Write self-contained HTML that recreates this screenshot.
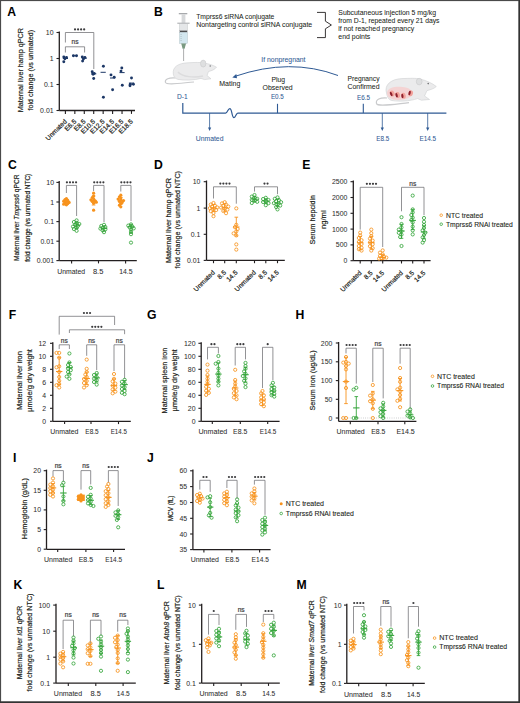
<!DOCTYPE html>
<html><head><meta charset="utf-8"><style>
html,body{margin:0;padding:0;background:#fff;}
body{width:520px;height:703px;overflow:hidden;}
svg{display:block;font-family:"Liberation Sans", sans-serif;}
</style></head><body>
<svg width="520" height="703" viewBox="0 0 520 703">
<rect x="0" y="0" width="520" height="703" fill="#fff"/>
<text x="7.3" y="15.8" font-size="12.2" text-anchor="start" fill="#000" font-weight="bold" >A</text>
<text transform="translate(23.0,70.2) rotate(-90)" font-size="8.0" text-anchor="middle" fill="#231f20" stroke="#231f20" stroke-width="0.2" textLength="84" lengthAdjust="spacingAndGlyphs" >Maternal liver hamp qPCR</text>
<text transform="translate(33.0,70.2) rotate(-90)" font-size="8.0" text-anchor="middle" fill="#231f20" stroke="#231f20" stroke-width="0.2" textLength="80.5" lengthAdjust="spacingAndGlyphs" >fold change (vs unmated)</text>
<line x1="59.3" y1="31.5" x2="59.3" y2="110.5" stroke="#231f20" stroke-width="1.3" />
<line x1="56.5" y1="32.5" x2="59.3" y2="32.5" stroke="#231f20" stroke-width="1.105" />
<text x="53.6" y="35.0" font-size="6.3" text-anchor="end" fill="#2e2e2e" stroke="#2e2e2e" stroke-width="0.03" textLength="7.71" lengthAdjust="spacingAndGlyphs" >10</text>
<line x1="56.5" y1="58.5" x2="59.3" y2="58.5" stroke="#231f20" stroke-width="1.105" />
<text x="53.6" y="61.0" font-size="6.3" text-anchor="end" fill="#2e2e2e" stroke="#2e2e2e" stroke-width="0.03" textLength="3.85" lengthAdjust="spacingAndGlyphs" >1</text>
<line x1="56.5" y1="84.5" x2="59.3" y2="84.5" stroke="#231f20" stroke-width="1.105" />
<text x="53.6" y="87.0" font-size="6.3" text-anchor="end" fill="#2e2e2e" stroke="#2e2e2e" stroke-width="0.03" textLength="9.63" lengthAdjust="spacingAndGlyphs" >0.1</text>
<line x1="56.5" y1="110.5" x2="59.3" y2="110.5" stroke="#231f20" stroke-width="1.105" />
<text x="53.6" y="113.0" font-size="6.3" text-anchor="end" fill="#2e2e2e" stroke="#2e2e2e" stroke-width="0.03" textLength="13.49" lengthAdjust="spacingAndGlyphs" >0.01</text>
<line x1="59.3" y1="110.5" x2="135.0" y2="110.5" stroke="#231f20" stroke-width="1.3" />
<line x1="65.4" y1="110.5" x2="65.4" y2="113.9" stroke="#231f20" stroke-width="1.105" />
<line x1="74.84" y1="110.5" x2="74.84" y2="113.9" stroke="#231f20" stroke-width="1.105" />
<line x1="84.28" y1="110.5" x2="84.28" y2="113.9" stroke="#231f20" stroke-width="1.105" />
<line x1="93.72" y1="110.5" x2="93.72" y2="113.9" stroke="#231f20" stroke-width="1.105" />
<line x1="103.16" y1="110.5" x2="103.16" y2="113.9" stroke="#231f20" stroke-width="1.105" />
<line x1="112.6" y1="110.5" x2="112.6" y2="113.9" stroke="#231f20" stroke-width="1.105" />
<line x1="122.04" y1="110.5" x2="122.04" y2="113.9" stroke="#231f20" stroke-width="1.105" />
<line x1="131.48000000000002" y1="110.5" x2="131.48000000000002" y2="113.9" stroke="#231f20" stroke-width="1.105" />
<text transform="translate(67.30000000000001,122.0) rotate(-45)" font-size="6.6" text-anchor="end" fill="#231f20" stroke="#231f20" stroke-width="0.2" >Unmated</text>
<text transform="translate(76.74000000000001,122.0) rotate(-45)" font-size="6.6" text-anchor="end" fill="#231f20" stroke="#231f20" stroke-width="0.2" >E6.5</text>
<text transform="translate(86.18,122.0) rotate(-45)" font-size="6.6" text-anchor="end" fill="#231f20" stroke="#231f20" stroke-width="0.2" >E8.5</text>
<text transform="translate(95.62,122.0) rotate(-45)" font-size="6.6" text-anchor="end" fill="#231f20" stroke="#231f20" stroke-width="0.2" >E10.5</text>
<text transform="translate(105.06,122.0) rotate(-45)" font-size="6.6" text-anchor="end" fill="#231f20" stroke="#231f20" stroke-width="0.2" >E12.5</text>
<text transform="translate(114.5,122.0) rotate(-45)" font-size="6.6" text-anchor="end" fill="#231f20" stroke="#231f20" stroke-width="0.2" >E14.5</text>
<text transform="translate(123.94000000000001,122.0) rotate(-45)" font-size="6.6" text-anchor="end" fill="#231f20" stroke="#231f20" stroke-width="0.2" >E16.5</text>
<text transform="translate(133.38000000000002,122.0) rotate(-45)" font-size="6.6" text-anchor="end" fill="#231f20" stroke="#231f20" stroke-width="0.2" >E18.5</text>
<polyline points="65.4,42.5 65.4,32.5 93.8,32.5 93.8,69.0" fill="none" stroke="#6d6e71" stroke-width="0.75"/>
<polyline points="65.4,52.5 65.4,46.8 84.6,46.8 84.6,52.5" fill="none" stroke="#6d6e71" stroke-width="0.75"/>
<text x="75.0" y="44.2" font-size="6.6" text-anchor="middle" fill="#414042" stroke="#414042" stroke-width="0.2" >ns</text>
<line x1="62.800000000000004" y1="58.5" x2="68.0" y2="58.5" stroke="#1c3766" stroke-width="1.0" />
<circle cx="63.8" cy="56.9" r="1.45" fill="#1c3766"/>
<circle cx="66.5" cy="57.5" r="1.45" fill="#1c3766"/>
<circle cx="64.9" cy="58.8" r="1.45" fill="#1c3766"/>
<circle cx="63.8" cy="61.8" r="1.45" fill="#1c3766"/>
<line x1="72.24000000000001" y1="55.7" x2="77.44" y2="55.7" stroke="#1c3766" stroke-width="1.0" />
<circle cx="73.4" cy="55.7" r="1.45" fill="#1c3766"/>
<circle cx="76.5" cy="55.7" r="1.45" fill="#1c3766"/>
<line x1="81.68" y1="58.2" x2="86.88" y2="58.2" stroke="#1c3766" stroke-width="1.0" />
<circle cx="82.3" cy="56.9" r="1.45" fill="#1c3766"/>
<circle cx="84.9" cy="57.5" r="1.45" fill="#1c3766"/>
<circle cx="83.4" cy="59.0" r="1.45" fill="#1c3766"/>
<circle cx="82.6" cy="61.1" r="1.45" fill="#1c3766"/>
<line x1="91.12" y1="73.8" x2="96.32" y2="73.8" stroke="#1c3766" stroke-width="1.0" />
<circle cx="92.2" cy="71.8" r="1.45" fill="#1c3766"/>
<circle cx="94.2" cy="73.4" r="1.45" fill="#1c3766"/>
<circle cx="93.1" cy="74.2" r="1.45" fill="#1c3766"/>
<circle cx="93.7" cy="78.5" r="1.45" fill="#1c3766"/>
<line x1="100.56" y1="72.3" x2="105.75999999999999" y2="72.3" stroke="#1c3766" stroke-width="1.0" />
<circle cx="103.4" cy="66.2" r="1.45" fill="#1c3766"/>
<circle cx="103.4" cy="97.2" r="1.45" fill="#1c3766"/>
<line x1="110.0" y1="78.0" x2="115.19999999999999" y2="78.0" stroke="#1c3766" stroke-width="1.0" />
<circle cx="111.0" cy="74.9" r="1.45" fill="#1c3766"/>
<circle cx="114.2" cy="77.2" r="1.45" fill="#1c3766"/>
<circle cx="112.6" cy="89.8" r="1.45" fill="#1c3766"/>
<line x1="119.44000000000001" y1="72.6" x2="124.64" y2="72.6" stroke="#1c3766" stroke-width="1.0" />
<circle cx="121.8" cy="68.0" r="1.45" fill="#1c3766"/>
<circle cx="121.0" cy="71.1" r="1.45" fill="#1c3766"/>
<circle cx="122.3" cy="85.2" r="1.45" fill="#1c3766"/>
<line x1="128.88000000000002" y1="83.1" x2="134.08" y2="83.1" stroke="#1c3766" stroke-width="1.0" />
<circle cx="131.5" cy="78.0" r="1.45" fill="#1c3766"/>
<circle cx="130.3" cy="84.2" r="1.45" fill="#1c3766"/>
<circle cx="133.4" cy="84.2" r="1.45" fill="#1c3766"/>
<circle cx="130.0" cy="85.7" r="1.45" fill="#1c3766"/>
<text x="154.0" y="15.8" font-size="12.2" text-anchor="start" fill="#000" font-weight="bold" >B</text>
<rect x="178.8" y="13" width="8.5" height="1.3" fill="#a7a9ac"/>
<rect x="181.6" y="14.2" width="3.8" height="9" fill="#d6d8da"/>
<rect x="177.3" y="22.6" width="12.3" height="1.3" fill="#b9bbbd"/>
<rect x="179.7" y="23.8" width="7.6" height="7.0" fill="#e4e6e8" stroke="#b0b3b6" stroke-width="0.4"/>
<rect x="179.7" y="30.7" width="7.6" height="1.6" fill="#4d4d4f"/>
<rect x="179.7" y="32.3" width="7.6" height="11.1" fill="#d3e7ef" stroke="#9fb3bb" stroke-width="0.4"/>
<line x1="180.2" y1="34.5" x2="182.0" y2="34.5" stroke="#9aa9ae" stroke-width="0.35" />
<line x1="180.2" y1="36.5" x2="182.0" y2="36.5" stroke="#9aa9ae" stroke-width="0.35" />
<line x1="180.2" y1="38.5" x2="182.0" y2="38.5" stroke="#9aa9ae" stroke-width="0.35" />
<line x1="180.2" y1="40.5" x2="182.0" y2="40.5" stroke="#9aa9ae" stroke-width="0.35" />
<path d="M181.2,43.4 L186.0,43.4 L184.6,48.8 L182.6,48.8 Z" fill="#7a9a82"/>
<line x1="183.6" y1="48.8" x2="183.6" y2="61.0" stroke="#8a8c8e" stroke-width="0.7" />
<text x="196.2" y="18.8" font-size="6.6" text-anchor="start" fill="#231f20" stroke="#231f20" stroke-width="0.05" textLength="78.2" lengthAdjust="spacingAndGlyphs" >Tmprss6 siRNA conjugate</text>
<text x="196.2" y="26.9" font-size="6.6" text-anchor="start" fill="#231f20" stroke="#231f20" stroke-width="0.05" textLength="116.0" lengthAdjust="spacingAndGlyphs" >Nontargeting control siRNA conjugate</text>
<path d="M317,12.4 H325.4 V21.2 L331.4,25.0 L325.4,28.8 V37.6 H317" fill="none" stroke="#231f20" stroke-width="0.9"/>
<text x="338.3" y="15.0" font-size="6.6" text-anchor="start" fill="#231f20" stroke="#231f20" stroke-width="0.05" textLength="97.8" lengthAdjust="spacingAndGlyphs" >Subcutaneous injection 5 mg/kg</text>
<text x="338.3" y="23.1" font-size="6.6" text-anchor="start" fill="#231f20" stroke="#231f20" stroke-width="0.05" textLength="101.2" lengthAdjust="spacingAndGlyphs" >from D-1, repeated every 21 days</text>
<text x="338.3" y="31.1" font-size="6.6" text-anchor="start" fill="#231f20" stroke="#231f20" stroke-width="0.05" textLength="75.8" lengthAdjust="spacingAndGlyphs" >if not reached pregnancy</text>
<text x="338.3" y="38.9" font-size="6.6" text-anchor="start" fill="#231f20" stroke="#231f20" stroke-width="0.05" textLength="32.0" lengthAdjust="spacingAndGlyphs" >end points</text>
<path d="M175.5,78 C169,77.5 164.6,79 165.4,82.3 C166.4,85.4 180,83.2 194,82.0" fill="none" stroke="#c9cacc" stroke-width="1.1"/>
<path d="M173.3,74 C172.3,67 178,63.2 188,62.8 C195,62.4 200,62.2 204,63 C208.5,63.8 213,65 216.5,67.2 C215,69.5 211.5,70.8 208.5,71.5 L207,75.5 L211,78.8 L204.5,79.6 L201,78.4 C194,80.3 184,80.6 178,79.4 C175,78.6 173.6,76.5 173.3,74 Z" fill="#ebebec" stroke="#cfd0d2" stroke-width="0.6"/>
<path d="M178,72 C182,77 195,78 203,76" fill="none" stroke="#dcdcdd" stroke-width="1.5"/>
<ellipse cx="203.2" cy="63.6" rx="2.7" ry="3.5" fill="#dedfe0" stroke="#c4c5c7" stroke-width="0.5"/>
<circle cx="210.2" cy="66.0" r="0.7" fill="#6d6e71"/>
<path d="M387,98 C380,97.5 375.5,99.5 376.5,103.5 C377.5,107 392,104.5 409,102.6" fill="none" stroke="#c9cacc" stroke-width="1.2"/>
<path d="M386.5,93 C384,85 391,79 402,78.6 C410,78.3 416,78 420,79 C426,80.5 432,83 436.3,86.5 C434,88.8 430,89.8 427,90.6 L424.5,96 L429.5,99.5 L421.5,100.2 L417.5,98.6 C410,101.3 398,101.8 391,100.3 C388.5,99.5 387,96.5 386.5,93 Z" fill="#ebebec" stroke="#cfd0d2" stroke-width="0.6"/>
<path d="M387.0,93 C387.2,88.5 393,86.6 400,86.8 C406.5,87.0 411.8,88.8 412.0,93.0 C412.2,97.8 405,99.9 398,99.9 C391.5,99.9 386.8,97.2 387.0,93 Z" fill="#f4d3d3"/>
<ellipse cx="392.4" cy="94.0" rx="2.2" ry="3.0" transform="rotate(-25 391.2 94.0)" fill="#f2a39c"/>
<ellipse cx="391.2" cy="94.0" rx="1.1" ry="2.3" transform="rotate(-25 391.2 94.0)" fill="#8e1f2c"/>
<ellipse cx="397.8" cy="95.3" rx="2.2" ry="3.0" transform="rotate(-15 396.6 95.3)" fill="#f2a39c"/>
<ellipse cx="396.6" cy="95.3" rx="1.1" ry="2.3" transform="rotate(-15 396.6 95.3)" fill="#8e1f2c"/>
<ellipse cx="403.59999999999997" cy="96.0" rx="2.2" ry="3.0" transform="rotate(-8 402.4 96.0)" fill="#f2a39c"/>
<ellipse cx="402.4" cy="96.0" rx="1.1" ry="2.3" transform="rotate(-8 402.4 96.0)" fill="#8e1f2c"/>
<ellipse cx="410.8" cy="93.0" rx="2.2" ry="3.0" transform="rotate(15 409.6 93.0)" fill="#f2a39c"/>
<ellipse cx="409.6" cy="93.0" rx="1.1" ry="2.3" transform="rotate(15 409.6 93.0)" fill="#8e1f2c"/>
<ellipse cx="419.2" cy="81.6" rx="2.9" ry="3.3" fill="#dedfe0" stroke="#c4c5c7" stroke-width="0.5"/>
<circle cx="428.2" cy="83.6" r="0.8" fill="#6d6e71"/>
<path d="M182.8,103 V113.1 H225.6 C227.6,113.1 227.8,108.6 229.8,108.6 C232.2,108.6 231.6,117.6 234.0,117.6 C235.8,117.6 236.0,113.1 237.8,113.1 H446.4" fill="none" stroke="#2f5a94" stroke-width="1.2"/>
<line x1="277.5" y1="103.8" x2="277.5" y2="113.1" stroke="#2f5a94" stroke-width="1.1" />
<line x1="363.3" y1="103.8" x2="363.3" y2="113.1" stroke="#2f5a94" stroke-width="1.1" />
<line x1="209.6" y1="113.1" x2="209.6" y2="128.5" stroke="#2f5a94" stroke-width="0.8" />
<path d="M208.0,127.5 L211.2,127.5 L209.6,131.0 Z" fill="#2f5a94"/>
<line x1="382.3" y1="113.1" x2="382.3" y2="128.5" stroke="#2f5a94" stroke-width="0.8" />
<path d="M380.7,127.5 L383.90000000000003,127.5 L382.3,131.0 Z" fill="#2f5a94"/>
<line x1="427.7" y1="113.1" x2="427.7" y2="128.5" stroke="#2f5a94" stroke-width="0.8" />
<path d="M426.09999999999997,127.5 L429.3,127.5 L427.7,131.0 Z" fill="#2f5a94"/>
<path d="M338,75.5 Q290,57.5 235.5,76.2" fill="none" stroke="#2f5a94" stroke-width="1.0"/>
<path d="M232.3,77.6 L236.3,73.9 L237.0,78.2 Z" fill="#2f5a94"/>
<text x="261.3" y="62.2" font-size="6.6" text-anchor="start" fill="#2f5a94" stroke="#2f5a94" stroke-width="0.05" textLength="44.2" lengthAdjust="spacingAndGlyphs" >If nonpregnant</text>
<text x="219.3" y="85.5" font-size="6.6" text-anchor="start" fill="#231f20" stroke="#231f20" stroke-width="0.05" textLength="21.0" lengthAdjust="spacingAndGlyphs" >Mating</text>
<text x="278.2" y="82.0" font-size="6.6" text-anchor="middle" fill="#231f20" stroke="#231f20" stroke-width="0.05" textLength="13.6" lengthAdjust="spacingAndGlyphs" >Plug</text>
<text x="277.6" y="90.0" font-size="6.6" text-anchor="middle" fill="#231f20" stroke="#231f20" stroke-width="0.05" textLength="30.0" lengthAdjust="spacingAndGlyphs" >Observed</text>
<text x="277.4" y="98.8" font-size="6.6" text-anchor="middle" fill="#2f5a94" stroke="#2f5a94" stroke-width="0.05" textLength="13.0" lengthAdjust="spacingAndGlyphs" >E0.5</text>
<text x="363.5" y="81.3" font-size="6.6" text-anchor="middle" fill="#231f20" stroke="#231f20" stroke-width="0.05" textLength="32.0" lengthAdjust="spacingAndGlyphs" >Pregnancy</text>
<text x="363.5" y="89.3" font-size="6.6" text-anchor="middle" fill="#231f20" stroke="#231f20" stroke-width="0.05" textLength="32.0" lengthAdjust="spacingAndGlyphs" >Confirmed</text>
<text x="363.5" y="99.5" font-size="6.6" text-anchor="middle" fill="#2f5a94" stroke="#2f5a94" stroke-width="0.05" textLength="13.0" lengthAdjust="spacingAndGlyphs" >E6.5</text>
<text x="182.4" y="98.6" font-size="6.6" text-anchor="middle" fill="#2f5a94" stroke="#2f5a94" stroke-width="0.05" textLength="10.7" lengthAdjust="spacingAndGlyphs" >D-1</text>
<text x="209.6" y="140.8" font-size="6.6" text-anchor="middle" fill="#2f5a94" stroke="#2f5a94" stroke-width="0.05" textLength="27.7" lengthAdjust="spacingAndGlyphs" >Unmated</text>
<text x="382.7" y="140.8" font-size="6.6" text-anchor="middle" fill="#2f5a94" stroke="#2f5a94" stroke-width="0.05" textLength="13.0" lengthAdjust="spacingAndGlyphs" >E8.5</text>
<text x="427.8" y="140.8" font-size="6.6" text-anchor="middle" fill="#2f5a94" stroke="#2f5a94" stroke-width="0.05" textLength="16.7" lengthAdjust="spacingAndGlyphs" >E14.5</text>
<text x="8.0" y="168.9" font-size="12.2" text-anchor="start" fill="#000" font-weight="bold" >C</text>
<text transform="translate(19.0,217.8) rotate(-90)" font-size="8.0" text-anchor="middle" fill="#231f20" stroke="#231f20" stroke-width="0.2" textLength="86.5" lengthAdjust="spacingAndGlyphs" >Maternal liver <tspan font-style="italic">Tmprss6</tspan> qPCR</text>
<text transform="translate(29.5,217.8) rotate(-90)" font-size="8.0" text-anchor="middle" fill="#231f20" stroke="#231f20" stroke-width="0.2" textLength="88.0" lengthAdjust="spacingAndGlyphs" >fold change (vs unmated NTC)</text>
<line x1="59.2" y1="181.0" x2="59.2" y2="260.6" stroke="#231f20" stroke-width="1.3" />
<line x1="56.400000000000006" y1="182.4" x2="59.2" y2="182.4" stroke="#231f20" stroke-width="1.105" />
<text x="54.0" y="184.9" font-size="6.3" text-anchor="end" fill="#2e2e2e" stroke="#2e2e2e" stroke-width="0.03" textLength="7.71" lengthAdjust="spacingAndGlyphs" >10</text>
<line x1="56.400000000000006" y1="202.0" x2="59.2" y2="202.0" stroke="#231f20" stroke-width="1.105" />
<text x="54.0" y="204.5" font-size="6.3" text-anchor="end" fill="#2e2e2e" stroke="#2e2e2e" stroke-width="0.03" textLength="3.85" lengthAdjust="spacingAndGlyphs" >1</text>
<line x1="56.400000000000006" y1="221.6" x2="59.2" y2="221.6" stroke="#231f20" stroke-width="1.105" />
<text x="54.0" y="224.1" font-size="6.3" text-anchor="end" fill="#2e2e2e" stroke="#2e2e2e" stroke-width="0.03" textLength="9.63" lengthAdjust="spacingAndGlyphs" >0.1</text>
<line x1="56.400000000000006" y1="241.2" x2="59.2" y2="241.2" stroke="#231f20" stroke-width="1.105" />
<text x="54.0" y="243.7" font-size="6.3" text-anchor="end" fill="#2e2e2e" stroke="#2e2e2e" stroke-width="0.03" textLength="13.49" lengthAdjust="spacingAndGlyphs" >0.01</text>
<line x1="56.400000000000006" y1="260.6" x2="59.2" y2="260.6" stroke="#231f20" stroke-width="1.105" />
<text x="54.0" y="263.1" font-size="6.3" text-anchor="end" fill="#2e2e2e" stroke="#2e2e2e" stroke-width="0.03" textLength="17.34" lengthAdjust="spacingAndGlyphs" >0.001</text>
<line x1="59.2" y1="260.6" x2="136.8" y2="260.6" stroke="#231f20" stroke-width="1.3" />
<line x1="71.6" y1="260.6" x2="71.6" y2="263.40000000000003" stroke="#231f20" stroke-width="1.105" />
<line x1="98.5" y1="260.6" x2="98.5" y2="263.40000000000003" stroke="#231f20" stroke-width="1.105" />
<line x1="125.6" y1="260.6" x2="125.6" y2="263.40000000000003" stroke="#231f20" stroke-width="1.105" />
<text x="71.2" y="273.5" font-size="6.8" text-anchor="middle" fill="#2e2e2e" stroke="#2e2e2e" stroke-width="0.05" textLength="27.8" lengthAdjust="spacingAndGlyphs" >Unmated</text>
<text x="98.1" y="273.5" font-size="6.8" text-anchor="middle" fill="#2e2e2e" stroke="#2e2e2e" stroke-width="0.05" textLength="10.4" lengthAdjust="spacingAndGlyphs" >8.5</text>
<text x="125.9" y="273.5" font-size="6.8" text-anchor="middle" fill="#2e2e2e" stroke="#2e2e2e" stroke-width="0.05" textLength="13.4" lengthAdjust="spacingAndGlyphs" >14.5</text>
<polyline points="66.4,193.0 66.4,185.4 76.6,185.4 76.6,216.0" fill="none" stroke="#6d6e71" stroke-width="0.75"/>
<circle cx="66.92" cy="182.30" r="1.1" fill="#3c3c3e"/>
<circle cx="69.97" cy="182.30" r="1.1" fill="#3c3c3e"/>
<circle cx="73.02" cy="182.30" r="1.1" fill="#3c3c3e"/>
<circle cx="76.07" cy="182.30" r="1.1" fill="#3c3c3e"/>
<polyline points="93.6,191.0 93.6,185.4 104.0,185.4 104.0,222.0" fill="none" stroke="#6d6e71" stroke-width="0.75"/>
<circle cx="94.22" cy="182.30" r="1.1" fill="#3c3c3e"/>
<circle cx="97.27" cy="182.30" r="1.1" fill="#3c3c3e"/>
<circle cx="100.32" cy="182.30" r="1.1" fill="#3c3c3e"/>
<circle cx="103.38" cy="182.30" r="1.1" fill="#3c3c3e"/>
<polyline points="120.8,191.5 120.8,185.4 131.0,185.4 131.0,221.0" fill="none" stroke="#6d6e71" stroke-width="0.75"/>
<circle cx="121.33" cy="182.30" r="1.1" fill="#3c3c3e"/>
<circle cx="124.38" cy="182.30" r="1.1" fill="#3c3c3e"/>
<circle cx="127.42" cy="182.30" r="1.1" fill="#3c3c3e"/>
<circle cx="130.47" cy="182.30" r="1.1" fill="#3c3c3e"/>
<circle cx="66.40" cy="198.60" r="1.6" fill="#f7931e"/>
<circle cx="65.05" cy="199.60" r="1.6" fill="#f7931e"/>
<circle cx="67.75" cy="200.40" r="1.6" fill="#f7931e"/>
<circle cx="63.70" cy="201.20" r="1.6" fill="#f7931e"/>
<circle cx="66.40" cy="201.80" r="1.6" fill="#f7931e"/>
<circle cx="69.10" cy="202.40" r="1.6" fill="#f7931e"/>
<circle cx="65.05" cy="203.00" r="1.6" fill="#f7931e"/>
<circle cx="67.75" cy="203.60" r="1.6" fill="#f7931e"/>
<circle cx="63.70" cy="204.20" r="1.6" fill="#f7931e"/>
<circle cx="66.40" cy="204.80" r="1.6" fill="#f7931e"/>
<line x1="66.4" y1="199.0" x2="66.4" y2="204.6" stroke="#f7931e" stroke-width="0.9" />
<line x1="64.60000000000001" y1="199.0" x2="68.2" y2="199.0" stroke="#f7931e" stroke-width="0.9" />
<line x1="64.60000000000001" y1="204.6" x2="68.2" y2="204.6" stroke="#f7931e" stroke-width="0.9" />
<line x1="63.2" y1="201.8" x2="69.60000000000001" y2="201.8" stroke="#f7931e" stroke-width="1.08" />
<circle cx="76.60" cy="220.40" r="1.6" fill="none" stroke="#35a53b" stroke-width="0.85"/>
<circle cx="73.90" cy="222.00" r="1.6" fill="none" stroke="#35a53b" stroke-width="0.85"/>
<circle cx="76.60" cy="223.00" r="1.6" fill="none" stroke="#35a53b" stroke-width="0.85"/>
<circle cx="79.30" cy="224.00" r="1.6" fill="none" stroke="#35a53b" stroke-width="0.85"/>
<circle cx="75.25" cy="225.00" r="1.6" fill="none" stroke="#35a53b" stroke-width="0.85"/>
<circle cx="77.95" cy="225.80" r="1.6" fill="none" stroke="#35a53b" stroke-width="0.85"/>
<circle cx="73.00" cy="226.60" r="1.6" fill="none" stroke="#35a53b" stroke-width="0.85"/>
<circle cx="76.60" cy="227.60" r="1.6" fill="none" stroke="#35a53b" stroke-width="0.85"/>
<circle cx="73.90" cy="229.00" r="1.6" fill="none" stroke="#35a53b" stroke-width="0.85"/>
<circle cx="76.60" cy="230.80" r="1.6" fill="none" stroke="#35a53b" stroke-width="0.85"/>
<line x1="76.6" y1="222.2" x2="76.6" y2="228.4" stroke="#35a53b" stroke-width="0.9" />
<line x1="74.8" y1="222.2" x2="78.39999999999999" y2="222.2" stroke="#35a53b" stroke-width="0.9" />
<line x1="74.8" y1="228.4" x2="78.39999999999999" y2="228.4" stroke="#35a53b" stroke-width="0.9" />
<line x1="73.39999999999999" y1="225.2" x2="79.8" y2="225.2" stroke="#35a53b" stroke-width="1.08" />
<circle cx="93.60" cy="193.20" r="1.6" fill="#f7931e"/>
<circle cx="93.60" cy="196.00" r="1.6" fill="#f7931e"/>
<circle cx="92.25" cy="197.50" r="1.6" fill="#f7931e"/>
<circle cx="93.60" cy="198.80" r="1.6" fill="#f7931e"/>
<circle cx="90.90" cy="199.80" r="1.6" fill="#f7931e"/>
<circle cx="94.95" cy="200.60" r="1.6" fill="#f7931e"/>
<circle cx="92.25" cy="201.40" r="1.6" fill="#f7931e"/>
<circle cx="96.30" cy="202.20" r="1.6" fill="#f7931e"/>
<circle cx="93.60" cy="203.20" r="1.6" fill="#f7931e"/>
<circle cx="93.60" cy="210.20" r="1.6" fill="#f7931e"/>
<line x1="93.6" y1="196.0" x2="93.6" y2="205.0" stroke="#f7931e" stroke-width="0.9" />
<line x1="91.8" y1="196.0" x2="95.39999999999999" y2="196.0" stroke="#f7931e" stroke-width="0.9" />
<line x1="91.8" y1="205.0" x2="95.39999999999999" y2="205.0" stroke="#f7931e" stroke-width="0.9" />
<line x1="90.39999999999999" y1="200.8" x2="96.8" y2="200.8" stroke="#f7931e" stroke-width="1.08" />
<circle cx="104.00" cy="224.80" r="1.6" fill="none" stroke="#35a53b" stroke-width="0.85"/>
<circle cx="101.30" cy="226.00" r="1.6" fill="none" stroke="#35a53b" stroke-width="0.85"/>
<circle cx="105.35" cy="227.00" r="1.6" fill="none" stroke="#35a53b" stroke-width="0.85"/>
<circle cx="102.65" cy="227.80" r="1.6" fill="none" stroke="#35a53b" stroke-width="0.85"/>
<circle cx="100.40" cy="228.60" r="1.6" fill="none" stroke="#35a53b" stroke-width="0.85"/>
<circle cx="105.35" cy="229.40" r="1.6" fill="none" stroke="#35a53b" stroke-width="0.85"/>
<circle cx="102.65" cy="230.40" r="1.6" fill="none" stroke="#35a53b" stroke-width="0.85"/>
<circle cx="104.00" cy="232.20" r="1.6" fill="none" stroke="#35a53b" stroke-width="0.85"/>
<line x1="104.0" y1="226.0" x2="104.0" y2="231.0" stroke="#35a53b" stroke-width="0.9" />
<line x1="102.2" y1="226.0" x2="105.8" y2="226.0" stroke="#35a53b" stroke-width="0.9" />
<line x1="102.2" y1="231.0" x2="105.8" y2="231.0" stroke="#35a53b" stroke-width="0.9" />
<line x1="100.8" y1="228.4" x2="107.2" y2="228.4" stroke="#35a53b" stroke-width="1.08" />
<circle cx="120.80" cy="195.20" r="1.6" fill="#f7931e"/>
<circle cx="119.45" cy="196.80" r="1.6" fill="#f7931e"/>
<circle cx="120.80" cy="198.00" r="1.6" fill="#f7931e"/>
<circle cx="118.10" cy="199.00" r="1.6" fill="#f7931e"/>
<circle cx="120.80" cy="199.80" r="1.6" fill="#f7931e"/>
<circle cx="123.50" cy="200.60" r="1.6" fill="#f7931e"/>
<circle cx="119.45" cy="201.40" r="1.6" fill="#f7931e"/>
<circle cx="122.15" cy="202.40" r="1.6" fill="#f7931e"/>
<circle cx="120.80" cy="203.60" r="1.6" fill="#f7931e"/>
<circle cx="119.45" cy="205.20" r="1.6" fill="#f7931e"/>
<circle cx="120.80" cy="206.80" r="1.6" fill="#f7931e"/>
<line x1="120.8" y1="197.4" x2="120.8" y2="204.4" stroke="#f7931e" stroke-width="0.9" />
<line x1="119.0" y1="197.4" x2="122.6" y2="197.4" stroke="#f7931e" stroke-width="0.9" />
<line x1="119.0" y1="204.4" x2="122.6" y2="204.4" stroke="#f7931e" stroke-width="0.9" />
<line x1="117.6" y1="200.8" x2="124.0" y2="200.8" stroke="#f7931e" stroke-width="1.08" />
<circle cx="131.00" cy="224.40" r="1.6" fill="none" stroke="#35a53b" stroke-width="0.85"/>
<circle cx="128.30" cy="225.60" r="1.6" fill="none" stroke="#35a53b" stroke-width="0.85"/>
<circle cx="132.35" cy="226.60" r="1.6" fill="none" stroke="#35a53b" stroke-width="0.85"/>
<circle cx="129.65" cy="227.40" r="1.6" fill="none" stroke="#35a53b" stroke-width="0.85"/>
<circle cx="133.70" cy="228.40" r="1.6" fill="none" stroke="#35a53b" stroke-width="0.85"/>
<circle cx="131.00" cy="229.60" r="1.6" fill="none" stroke="#35a53b" stroke-width="0.85"/>
<circle cx="131.00" cy="231.80" r="1.6" fill="none" stroke="#35a53b" stroke-width="0.85"/>
<circle cx="131.00" cy="234.20" r="1.6" fill="none" stroke="#35a53b" stroke-width="0.85"/>
<circle cx="131.00" cy="242.60" r="1.6" fill="none" stroke="#35a53b" stroke-width="0.85"/>
<line x1="131.0" y1="224.4" x2="131.0" y2="233.0" stroke="#35a53b" stroke-width="0.9" />
<line x1="129.2" y1="224.4" x2="132.8" y2="224.4" stroke="#35a53b" stroke-width="0.9" />
<line x1="129.2" y1="233.0" x2="132.8" y2="233.0" stroke="#35a53b" stroke-width="0.9" />
<line x1="127.8" y1="226.8" x2="134.2" y2="226.8" stroke="#35a53b" stroke-width="1.08" />
<text x="154.0" y="168.9" font-size="12.2" text-anchor="start" fill="#000" font-weight="bold" >D</text>
<text transform="translate(170.6,220.6) rotate(-90)" font-size="8.0" text-anchor="middle" fill="#231f20" stroke="#231f20" stroke-width="0.2" textLength="85.0" lengthAdjust="spacingAndGlyphs" >Maternal liver hamp qPCR</text>
<text transform="translate(180.2,219.8) rotate(-90)" font-size="8.0" text-anchor="middle" fill="#231f20" stroke="#231f20" stroke-width="0.2" textLength="97.5" lengthAdjust="spacingAndGlyphs" >fold change (vs unmated NTC)</text>
<line x1="206.5" y1="180.5" x2="206.5" y2="260.4" stroke="#231f20" stroke-width="1.3" />
<line x1="203.7" y1="181.7" x2="206.5" y2="181.7" stroke="#231f20" stroke-width="1.105" />
<text x="200.4" y="184.2" font-size="6.3" text-anchor="end" fill="#2e2e2e" stroke="#2e2e2e" stroke-width="0.03" textLength="7.71" lengthAdjust="spacingAndGlyphs" >10</text>
<line x1="203.7" y1="208.1" x2="206.5" y2="208.1" stroke="#231f20" stroke-width="1.105" />
<text x="200.4" y="210.6" font-size="6.3" text-anchor="end" fill="#2e2e2e" stroke="#2e2e2e" stroke-width="0.03" textLength="3.85" lengthAdjust="spacingAndGlyphs" >1</text>
<line x1="203.7" y1="234.3" x2="206.5" y2="234.3" stroke="#231f20" stroke-width="1.105" />
<text x="200.4" y="236.8" font-size="6.3" text-anchor="end" fill="#2e2e2e" stroke="#2e2e2e" stroke-width="0.03" textLength="9.63" lengthAdjust="spacingAndGlyphs" >0.1</text>
<line x1="203.7" y1="260.4" x2="206.5" y2="260.4" stroke="#231f20" stroke-width="1.105" />
<text x="200.4" y="262.9" font-size="6.3" text-anchor="end" fill="#2e2e2e" stroke="#2e2e2e" stroke-width="0.03" textLength="13.49" lengthAdjust="spacingAndGlyphs" >0.01</text>
<line x1="206.5" y1="260.4" x2="284.8" y2="260.4" stroke="#231f20" stroke-width="1.3" />
<line x1="213.5" y1="260.4" x2="213.5" y2="263.2" stroke="#231f20" stroke-width="1.105" />
<line x1="224.7" y1="260.4" x2="224.7" y2="263.2" stroke="#231f20" stroke-width="1.105" />
<line x1="236.3" y1="260.4" x2="236.3" y2="263.2" stroke="#231f20" stroke-width="1.105" />
<line x1="254.5" y1="260.4" x2="254.5" y2="263.2" stroke="#231f20" stroke-width="1.105" />
<line x1="265.8" y1="260.4" x2="265.8" y2="263.2" stroke="#231f20" stroke-width="1.105" />
<line x1="277.5" y1="260.4" x2="277.5" y2="263.2" stroke="#231f20" stroke-width="1.105" />
<text transform="translate(215.3,273.0) rotate(-45)" font-size="6.6" text-anchor="end" fill="#231f20" stroke="#231f20" stroke-width="0.2" >Unmated</text>
<text transform="translate(226.5,273.0) rotate(-45)" font-size="6.6" text-anchor="end" fill="#231f20" stroke="#231f20" stroke-width="0.2" >8.5</text>
<text transform="translate(238.10000000000002,273.0) rotate(-45)" font-size="6.6" text-anchor="end" fill="#231f20" stroke="#231f20" stroke-width="0.2" >14.5</text>
<text transform="translate(256.3,273.0) rotate(-45)" font-size="6.6" text-anchor="end" fill="#231f20" stroke="#231f20" stroke-width="0.2" >Unmated</text>
<text transform="translate(267.6,273.0) rotate(-45)" font-size="6.6" text-anchor="end" fill="#231f20" stroke="#231f20" stroke-width="0.2" >8.5</text>
<text transform="translate(279.3,273.0) rotate(-45)" font-size="6.6" text-anchor="end" fill="#231f20" stroke="#231f20" stroke-width="0.2" >14.5</text>
<polyline points="213.5,198.5 213.5,186.8 236.3,186.8 236.3,203.7" fill="none" stroke="#6d6e71" stroke-width="0.75"/>
<circle cx="220.33" cy="183.60" r="1.1" fill="#3c3c3e"/>
<circle cx="223.38" cy="183.60" r="1.1" fill="#3c3c3e"/>
<circle cx="226.43" cy="183.60" r="1.1" fill="#3c3c3e"/>
<circle cx="229.48" cy="183.60" r="1.1" fill="#3c3c3e"/>
<polyline points="254.5,191.6 254.5,186.8 277.5,186.8 277.5,194.2" fill="none" stroke="#6d6e71" stroke-width="0.75"/>
<circle cx="264.48" cy="183.60" r="1.1" fill="#3c3c3e"/>
<circle cx="267.53" cy="183.60" r="1.1" fill="#3c3c3e"/>
<circle cx="213.50" cy="203.00" r="1.6" fill="none" stroke="#f7931e" stroke-width="0.85"/>
<circle cx="210.80" cy="204.50" r="1.6" fill="none" stroke="#f7931e" stroke-width="0.85"/>
<circle cx="214.85" cy="205.60" r="1.6" fill="none" stroke="#f7931e" stroke-width="0.85"/>
<circle cx="212.15" cy="206.60" r="1.6" fill="none" stroke="#f7931e" stroke-width="0.85"/>
<circle cx="217.10" cy="207.40" r="1.6" fill="none" stroke="#f7931e" stroke-width="0.85"/>
<circle cx="209.90" cy="208.20" r="1.6" fill="none" stroke="#f7931e" stroke-width="0.85"/>
<circle cx="213.50" cy="209.00" r="1.6" fill="none" stroke="#f7931e" stroke-width="0.85"/>
<circle cx="216.20" cy="210.00" r="1.6" fill="none" stroke="#f7931e" stroke-width="0.85"/>
<circle cx="210.80" cy="211.20" r="1.6" fill="none" stroke="#f7931e" stroke-width="0.85"/>
<circle cx="213.50" cy="213.00" r="1.6" fill="none" stroke="#f7931e" stroke-width="0.85"/>
<circle cx="213.50" cy="216.20" r="1.6" fill="none" stroke="#f7931e" stroke-width="0.85"/>
<line x1="213.5" y1="204.6" x2="213.5" y2="211.6" stroke="#f7931e" stroke-width="0.9" />
<line x1="211.7" y1="204.6" x2="215.3" y2="204.6" stroke="#f7931e" stroke-width="0.9" />
<line x1="211.7" y1="211.6" x2="215.3" y2="211.6" stroke="#f7931e" stroke-width="0.9" />
<line x1="210.3" y1="208.0" x2="216.7" y2="208.0" stroke="#f7931e" stroke-width="1.08" />
<circle cx="224.70" cy="202.20" r="1.6" fill="none" stroke="#f7931e" stroke-width="0.85"/>
<circle cx="222.00" cy="203.40" r="1.6" fill="none" stroke="#f7931e" stroke-width="0.85"/>
<circle cx="226.05" cy="204.60" r="1.6" fill="none" stroke="#f7931e" stroke-width="0.85"/>
<circle cx="223.35" cy="205.60" r="1.6" fill="none" stroke="#f7931e" stroke-width="0.85"/>
<circle cx="228.30" cy="206.60" r="1.6" fill="none" stroke="#f7931e" stroke-width="0.85"/>
<circle cx="221.10" cy="207.60" r="1.6" fill="none" stroke="#f7931e" stroke-width="0.85"/>
<circle cx="224.70" cy="208.60" r="1.6" fill="none" stroke="#f7931e" stroke-width="0.85"/>
<circle cx="227.40" cy="209.60" r="1.6" fill="none" stroke="#f7931e" stroke-width="0.85"/>
<circle cx="223.35" cy="211.00" r="1.6" fill="none" stroke="#f7931e" stroke-width="0.85"/>
<circle cx="226.05" cy="213.20" r="1.6" fill="none" stroke="#f7931e" stroke-width="0.85"/>
<line x1="224.7" y1="204.0" x2="224.7" y2="211.2" stroke="#f7931e" stroke-width="0.9" />
<line x1="222.89999999999998" y1="204.0" x2="226.5" y2="204.0" stroke="#f7931e" stroke-width="0.9" />
<line x1="222.89999999999998" y1="211.2" x2="226.5" y2="211.2" stroke="#f7931e" stroke-width="0.9" />
<line x1="221.5" y1="207.8" x2="227.89999999999998" y2="207.8" stroke="#f7931e" stroke-width="1.08" />
<circle cx="236.30" cy="208.40" r="1.6" fill="none" stroke="#f7931e" stroke-width="0.85"/>
<circle cx="236.30" cy="224.80" r="1.6" fill="none" stroke="#f7931e" stroke-width="0.85"/>
<circle cx="234.95" cy="227.20" r="1.6" fill="none" stroke="#f7931e" stroke-width="0.85"/>
<circle cx="237.65" cy="229.00" r="1.6" fill="none" stroke="#f7931e" stroke-width="0.85"/>
<circle cx="236.30" cy="231.40" r="1.6" fill="none" stroke="#f7931e" stroke-width="0.85"/>
<circle cx="233.60" cy="233.40" r="1.6" fill="none" stroke="#f7931e" stroke-width="0.85"/>
<circle cx="236.30" cy="235.40" r="1.6" fill="none" stroke="#f7931e" stroke-width="0.85"/>
<circle cx="236.30" cy="244.40" r="1.6" fill="none" stroke="#f7931e" stroke-width="0.85"/>
<circle cx="236.30" cy="249.60" r="1.6" fill="none" stroke="#f7931e" stroke-width="0.85"/>
<line x1="236.3" y1="217.2" x2="236.3" y2="236.0" stroke="#f7931e" stroke-width="0.9" />
<line x1="234.5" y1="217.2" x2="238.10000000000002" y2="217.2" stroke="#f7931e" stroke-width="0.9" />
<line x1="234.5" y1="236.0" x2="238.10000000000002" y2="236.0" stroke="#f7931e" stroke-width="0.9" />
<line x1="233.10000000000002" y1="227.0" x2="239.5" y2="227.0" stroke="#f7931e" stroke-width="1.08" />
<circle cx="254.50" cy="195.00" r="1.6" fill="none" stroke="#35a53b" stroke-width="0.85"/>
<circle cx="251.80" cy="196.60" r="1.6" fill="none" stroke="#35a53b" stroke-width="0.85"/>
<circle cx="254.50" cy="197.80" r="1.6" fill="none" stroke="#35a53b" stroke-width="0.85"/>
<circle cx="257.20" cy="198.80" r="1.6" fill="none" stroke="#35a53b" stroke-width="0.85"/>
<circle cx="251.80" cy="199.80" r="1.6" fill="none" stroke="#35a53b" stroke-width="0.85"/>
<circle cx="254.50" cy="200.80" r="1.6" fill="none" stroke="#35a53b" stroke-width="0.85"/>
<circle cx="257.20" cy="201.80" r="1.6" fill="none" stroke="#35a53b" stroke-width="0.85"/>
<circle cx="251.80" cy="203.00" r="1.6" fill="none" stroke="#35a53b" stroke-width="0.85"/>
<line x1="254.5" y1="196.6" x2="254.5" y2="201.8" stroke="#35a53b" stroke-width="0.9" />
<line x1="252.7" y1="196.6" x2="256.3" y2="196.6" stroke="#35a53b" stroke-width="0.9" />
<line x1="252.7" y1="201.8" x2="256.3" y2="201.8" stroke="#35a53b" stroke-width="0.9" />
<line x1="251.3" y1="199.2" x2="257.7" y2="199.2" stroke="#35a53b" stroke-width="1.08" />
<circle cx="265.80" cy="197.80" r="1.6" fill="none" stroke="#35a53b" stroke-width="0.85"/>
<circle cx="263.10" cy="199.00" r="1.6" fill="none" stroke="#35a53b" stroke-width="0.85"/>
<circle cx="268.50" cy="200.00" r="1.6" fill="none" stroke="#35a53b" stroke-width="0.85"/>
<circle cx="265.80" cy="201.00" r="1.6" fill="none" stroke="#35a53b" stroke-width="0.85"/>
<circle cx="263.10" cy="202.00" r="1.6" fill="none" stroke="#35a53b" stroke-width="0.85"/>
<circle cx="268.50" cy="203.20" r="1.6" fill="none" stroke="#35a53b" stroke-width="0.85"/>
<circle cx="265.80" cy="205.20" r="1.6" fill="none" stroke="#35a53b" stroke-width="0.85"/>
<line x1="265.8" y1="198.8" x2="265.8" y2="203.4" stroke="#35a53b" stroke-width="0.9" />
<line x1="264.0" y1="198.8" x2="267.6" y2="198.8" stroke="#35a53b" stroke-width="0.9" />
<line x1="264.0" y1="203.4" x2="267.6" y2="203.4" stroke="#35a53b" stroke-width="0.9" />
<line x1="262.6" y1="201.0" x2="269.0" y2="201.0" stroke="#35a53b" stroke-width="1.08" />
<circle cx="277.50" cy="197.40" r="1.6" fill="none" stroke="#35a53b" stroke-width="0.85"/>
<circle cx="274.80" cy="198.80" r="1.6" fill="none" stroke="#35a53b" stroke-width="0.85"/>
<circle cx="278.85" cy="200.00" r="1.6" fill="none" stroke="#35a53b" stroke-width="0.85"/>
<circle cx="276.15" cy="201.20" r="1.6" fill="none" stroke="#35a53b" stroke-width="0.85"/>
<circle cx="281.10" cy="202.20" r="1.6" fill="none" stroke="#35a53b" stroke-width="0.85"/>
<circle cx="273.90" cy="203.20" r="1.6" fill="none" stroke="#35a53b" stroke-width="0.85"/>
<circle cx="277.50" cy="204.40" r="1.6" fill="none" stroke="#35a53b" stroke-width="0.85"/>
<circle cx="280.20" cy="205.60" r="1.6" fill="none" stroke="#35a53b" stroke-width="0.85"/>
<circle cx="276.15" cy="207.00" r="1.6" fill="none" stroke="#35a53b" stroke-width="0.85"/>
<circle cx="277.50" cy="209.40" r="1.6" fill="none" stroke="#35a53b" stroke-width="0.85"/>
<line x1="277.5" y1="199.4" x2="277.5" y2="206.4" stroke="#35a53b" stroke-width="0.9" />
<line x1="275.7" y1="199.4" x2="279.3" y2="199.4" stroke="#35a53b" stroke-width="0.9" />
<line x1="275.7" y1="206.4" x2="279.3" y2="206.4" stroke="#35a53b" stroke-width="0.9" />
<line x1="274.3" y1="203.0" x2="280.7" y2="203.0" stroke="#35a53b" stroke-width="1.08" />
<text x="302.3" y="168.9" font-size="12.2" text-anchor="start" fill="#000" font-weight="bold" >E</text>
<text transform="translate(314.5,219.7) rotate(-90)" font-size="8.0" text-anchor="middle" fill="#231f20" stroke="#231f20" stroke-width="0.2" textLength="49.5" lengthAdjust="spacingAndGlyphs" >Serum hepcidin</text>
<text transform="translate(326.2,219.7) rotate(-90)" font-size="8.0" text-anchor="middle" fill="#231f20" stroke="#231f20" stroke-width="0.2" textLength="18.6" lengthAdjust="spacingAndGlyphs" >ng/ml</text>
<line x1="353.3" y1="180.6" x2="353.3" y2="260.7" stroke="#231f20" stroke-width="1.3" />
<line x1="350.5" y1="181.7" x2="353.3" y2="181.7" stroke="#231f20" stroke-width="1.105" />
<text x="347.4" y="184.2" font-size="6.3" text-anchor="end" fill="#2e2e2e" stroke="#2e2e2e" stroke-width="0.03" textLength="15.41" lengthAdjust="spacingAndGlyphs" >2500</text>
<line x1="350.5" y1="197.5" x2="353.3" y2="197.5" stroke="#231f20" stroke-width="1.105" />
<text x="347.4" y="200.0" font-size="6.3" text-anchor="end" fill="#2e2e2e" stroke="#2e2e2e" stroke-width="0.03" textLength="15.41" lengthAdjust="spacingAndGlyphs" >2000</text>
<line x1="350.5" y1="213.3" x2="353.3" y2="213.3" stroke="#231f20" stroke-width="1.105" />
<text x="347.4" y="215.8" font-size="6.3" text-anchor="end" fill="#2e2e2e" stroke="#2e2e2e" stroke-width="0.03" textLength="15.41" lengthAdjust="spacingAndGlyphs" >1500</text>
<line x1="350.5" y1="229.1" x2="353.3" y2="229.1" stroke="#231f20" stroke-width="1.105" />
<text x="347.4" y="231.6" font-size="6.3" text-anchor="end" fill="#2e2e2e" stroke="#2e2e2e" stroke-width="0.03" textLength="15.41" lengthAdjust="spacingAndGlyphs" >1000</text>
<line x1="350.5" y1="244.9" x2="353.3" y2="244.9" stroke="#231f20" stroke-width="1.105" />
<text x="347.4" y="247.4" font-size="6.3" text-anchor="end" fill="#2e2e2e" stroke="#2e2e2e" stroke-width="0.03" textLength="11.56" lengthAdjust="spacingAndGlyphs" >500</text>
<line x1="350.5" y1="260.7" x2="353.3" y2="260.7" stroke="#231f20" stroke-width="1.105" />
<text x="347.4" y="263.2" font-size="6.3" text-anchor="end" fill="#2e2e2e" stroke="#2e2e2e" stroke-width="0.03" textLength="3.85" lengthAdjust="spacingAndGlyphs" >0</text>
<line x1="353.3" y1="260.7" x2="430.6" y2="260.7" stroke="#231f20" stroke-width="1.3" />
<line x1="360.2" y1="260.7" x2="360.2" y2="263.5" stroke="#231f20" stroke-width="1.105" />
<line x1="371.3" y1="260.7" x2="371.3" y2="263.5" stroke="#231f20" stroke-width="1.105" />
<line x1="382.7" y1="260.7" x2="382.7" y2="263.5" stroke="#231f20" stroke-width="1.105" />
<line x1="401.5" y1="260.7" x2="401.5" y2="263.5" stroke="#231f20" stroke-width="1.105" />
<line x1="412.7" y1="260.7" x2="412.7" y2="263.5" stroke="#231f20" stroke-width="1.105" />
<line x1="424.0" y1="260.7" x2="424.0" y2="263.5" stroke="#231f20" stroke-width="1.105" />
<text transform="translate(362.0,273.3) rotate(-45)" font-size="6.6" text-anchor="end" fill="#231f20" stroke="#231f20" stroke-width="0.2" >Unmated</text>
<text transform="translate(373.1,273.3) rotate(-45)" font-size="6.6" text-anchor="end" fill="#231f20" stroke="#231f20" stroke-width="0.2" >8.5</text>
<text transform="translate(384.5,273.3) rotate(-45)" font-size="6.6" text-anchor="end" fill="#231f20" stroke="#231f20" stroke-width="0.2" >14.5</text>
<text transform="translate(403.3,273.3) rotate(-45)" font-size="6.6" text-anchor="end" fill="#231f20" stroke="#231f20" stroke-width="0.2" >Unmated</text>
<text transform="translate(414.5,273.3) rotate(-45)" font-size="6.6" text-anchor="end" fill="#231f20" stroke="#231f20" stroke-width="0.2" >8.5</text>
<text transform="translate(425.8,273.3) rotate(-45)" font-size="6.6" text-anchor="end" fill="#231f20" stroke="#231f20" stroke-width="0.2" >14.5</text>
<polyline points="360.2,229.6 360.2,187.3 382.7,187.3 382.7,247.0" fill="none" stroke="#6d6e71" stroke-width="0.75"/>
<circle cx="366.88" cy="183.80" r="1.1" fill="#3c3c3e"/>
<circle cx="369.93" cy="183.80" r="1.1" fill="#3c3c3e"/>
<circle cx="372.98" cy="183.80" r="1.1" fill="#3c3c3e"/>
<circle cx="376.02" cy="183.80" r="1.1" fill="#3c3c3e"/>
<polyline points="401.5,211.3 401.5,187.3 424.0,187.3 424.0,215.2" fill="none" stroke="#6d6e71" stroke-width="0.75"/>
<text x="412.75" y="185.60000000000002" font-size="6.6" text-anchor="middle" fill="#414042" stroke="#414042" stroke-width="0.2" >ns</text>
<circle cx="360.20" cy="232.60" r="1.6" fill="none" stroke="#f7931e" stroke-width="0.85"/>
<circle cx="360.20" cy="235.60" r="1.6" fill="none" stroke="#f7931e" stroke-width="0.85"/>
<circle cx="358.85" cy="238.00" r="1.6" fill="none" stroke="#f7931e" stroke-width="0.85"/>
<circle cx="361.55" cy="240.20" r="1.6" fill="none" stroke="#f7931e" stroke-width="0.85"/>
<circle cx="358.85" cy="242.00" r="1.6" fill="none" stroke="#f7931e" stroke-width="0.85"/>
<circle cx="361.55" cy="244.00" r="1.6" fill="none" stroke="#f7931e" stroke-width="0.85"/>
<circle cx="358.85" cy="246.00" r="1.6" fill="none" stroke="#f7931e" stroke-width="0.85"/>
<circle cx="361.55" cy="247.80" r="1.6" fill="none" stroke="#f7931e" stroke-width="0.85"/>
<circle cx="358.85" cy="249.20" r="1.6" fill="none" stroke="#f7931e" stroke-width="0.85"/>
<circle cx="361.55" cy="250.60" r="1.6" fill="none" stroke="#f7931e" stroke-width="0.85"/>
<line x1="360.2" y1="236.4" x2="360.2" y2="249.8" stroke="#f7931e" stroke-width="0.9" />
<line x1="358.4" y1="236.4" x2="362.0" y2="236.4" stroke="#f7931e" stroke-width="0.9" />
<line x1="358.4" y1="249.8" x2="362.0" y2="249.8" stroke="#f7931e" stroke-width="0.9" />
<line x1="357.0" y1="242.7" x2="363.4" y2="242.7" stroke="#f7931e" stroke-width="1.08" />
<circle cx="371.30" cy="229.60" r="1.6" fill="none" stroke="#f7931e" stroke-width="0.85"/>
<circle cx="371.30" cy="233.20" r="1.6" fill="none" stroke="#f7931e" stroke-width="0.85"/>
<circle cx="371.30" cy="236.20" r="1.6" fill="none" stroke="#f7931e" stroke-width="0.85"/>
<circle cx="369.95" cy="238.60" r="1.6" fill="none" stroke="#f7931e" stroke-width="0.85"/>
<circle cx="372.65" cy="240.60" r="1.6" fill="none" stroke="#f7931e" stroke-width="0.85"/>
<circle cx="369.95" cy="242.40" r="1.6" fill="none" stroke="#f7931e" stroke-width="0.85"/>
<circle cx="372.65" cy="244.20" r="1.6" fill="none" stroke="#f7931e" stroke-width="0.85"/>
<circle cx="369.95" cy="246.20" r="1.6" fill="none" stroke="#f7931e" stroke-width="0.85"/>
<circle cx="372.65" cy="248.20" r="1.6" fill="none" stroke="#f7931e" stroke-width="0.85"/>
<circle cx="371.30" cy="250.60" r="1.6" fill="none" stroke="#f7931e" stroke-width="0.85"/>
<line x1="371.3" y1="236.6" x2="371.3" y2="248.8" stroke="#f7931e" stroke-width="0.9" />
<line x1="369.5" y1="236.6" x2="373.1" y2="236.6" stroke="#f7931e" stroke-width="0.9" />
<line x1="369.5" y1="248.8" x2="373.1" y2="248.8" stroke="#f7931e" stroke-width="0.9" />
<line x1="368.1" y1="242.6" x2="374.5" y2="242.6" stroke="#f7931e" stroke-width="1.08" />
<circle cx="382.70" cy="250.40" r="1.6" fill="none" stroke="#f7931e" stroke-width="0.85"/>
<circle cx="380.00" cy="252.60" r="1.6" fill="none" stroke="#f7931e" stroke-width="0.85"/>
<circle cx="382.70" cy="254.40" r="1.6" fill="none" stroke="#f7931e" stroke-width="0.85"/>
<circle cx="380.00" cy="255.80" r="1.6" fill="none" stroke="#f7931e" stroke-width="0.85"/>
<circle cx="384.05" cy="256.80" r="1.6" fill="none" stroke="#f7931e" stroke-width="0.85"/>
<circle cx="386.30" cy="257.60" r="1.6" fill="none" stroke="#f7931e" stroke-width="0.85"/>
<circle cx="381.35" cy="258.20" r="1.6" fill="none" stroke="#f7931e" stroke-width="0.85"/>
<circle cx="379.10" cy="258.60" r="1.6" fill="none" stroke="#f7931e" stroke-width="0.85"/>
<line x1="382.7" y1="254.6" x2="382.7" y2="259.6" stroke="#f7931e" stroke-width="0.9" />
<line x1="380.9" y1="254.6" x2="384.5" y2="254.6" stroke="#f7931e" stroke-width="0.9" />
<line x1="380.9" y1="259.6" x2="384.5" y2="259.6" stroke="#f7931e" stroke-width="0.9" />
<line x1="379.5" y1="257.4" x2="385.9" y2="257.4" stroke="#f7931e" stroke-width="1.08" />
<circle cx="401.50" cy="217.20" r="1.6" fill="none" stroke="#35a53b" stroke-width="0.85"/>
<circle cx="401.50" cy="224.00" r="1.6" fill="none" stroke="#35a53b" stroke-width="0.85"/>
<circle cx="401.50" cy="227.40" r="1.6" fill="none" stroke="#35a53b" stroke-width="0.85"/>
<circle cx="398.80" cy="229.60" r="1.6" fill="none" stroke="#35a53b" stroke-width="0.85"/>
<circle cx="401.50" cy="231.20" r="1.6" fill="none" stroke="#35a53b" stroke-width="0.85"/>
<circle cx="398.80" cy="232.80" r="1.6" fill="none" stroke="#35a53b" stroke-width="0.85"/>
<circle cx="401.50" cy="234.60" r="1.6" fill="none" stroke="#35a53b" stroke-width="0.85"/>
<circle cx="400.15" cy="237.00" r="1.6" fill="none" stroke="#35a53b" stroke-width="0.85"/>
<circle cx="401.50" cy="246.00" r="1.6" fill="none" stroke="#35a53b" stroke-width="0.85"/>
<line x1="401.5" y1="224.4" x2="401.5" y2="238.3" stroke="#35a53b" stroke-width="0.9" />
<line x1="399.7" y1="224.4" x2="403.3" y2="224.4" stroke="#35a53b" stroke-width="0.9" />
<line x1="399.7" y1="238.3" x2="403.3" y2="238.3" stroke="#35a53b" stroke-width="0.9" />
<line x1="398.3" y1="231.0" x2="404.7" y2="231.0" stroke="#35a53b" stroke-width="1.08" />
<circle cx="412.70" cy="195.60" r="1.6" fill="none" stroke="#35a53b" stroke-width="0.85"/>
<circle cx="412.70" cy="209.40" r="1.6" fill="none" stroke="#35a53b" stroke-width="0.85"/>
<circle cx="412.70" cy="212.40" r="1.6" fill="none" stroke="#35a53b" stroke-width="0.85"/>
<circle cx="411.35" cy="215.00" r="1.6" fill="none" stroke="#35a53b" stroke-width="0.85"/>
<circle cx="412.70" cy="217.60" r="1.6" fill="none" stroke="#35a53b" stroke-width="0.85"/>
<circle cx="411.35" cy="220.00" r="1.6" fill="none" stroke="#35a53b" stroke-width="0.85"/>
<circle cx="412.70" cy="222.40" r="1.6" fill="none" stroke="#35a53b" stroke-width="0.85"/>
<circle cx="412.70" cy="226.60" r="1.6" fill="none" stroke="#35a53b" stroke-width="0.85"/>
<circle cx="412.70" cy="230.40" r="1.6" fill="none" stroke="#35a53b" stroke-width="0.85"/>
<circle cx="412.70" cy="234.40" r="1.6" fill="none" stroke="#35a53b" stroke-width="0.85"/>
<line x1="412.7" y1="209.4" x2="412.7" y2="229.6" stroke="#35a53b" stroke-width="0.9" />
<line x1="410.9" y1="209.4" x2="414.5" y2="209.4" stroke="#35a53b" stroke-width="0.9" />
<line x1="410.9" y1="229.6" x2="414.5" y2="229.6" stroke="#35a53b" stroke-width="0.9" />
<line x1="409.5" y1="220.4" x2="415.9" y2="220.4" stroke="#35a53b" stroke-width="1.08" />
<circle cx="424.00" cy="218.00" r="1.6" fill="none" stroke="#35a53b" stroke-width="0.85"/>
<circle cx="424.00" cy="221.80" r="1.6" fill="none" stroke="#35a53b" stroke-width="0.85"/>
<circle cx="424.00" cy="225.00" r="1.6" fill="none" stroke="#35a53b" stroke-width="0.85"/>
<circle cx="424.00" cy="228.00" r="1.6" fill="none" stroke="#35a53b" stroke-width="0.85"/>
<circle cx="422.65" cy="230.40" r="1.6" fill="none" stroke="#35a53b" stroke-width="0.85"/>
<circle cx="425.35" cy="232.60" r="1.6" fill="none" stroke="#35a53b" stroke-width="0.85"/>
<circle cx="424.00" cy="235.00" r="1.6" fill="none" stroke="#35a53b" stroke-width="0.85"/>
<circle cx="422.65" cy="237.40" r="1.6" fill="none" stroke="#35a53b" stroke-width="0.85"/>
<circle cx="424.00" cy="240.20" r="1.6" fill="none" stroke="#35a53b" stroke-width="0.85"/>
<circle cx="422.65" cy="242.60" r="1.6" fill="none" stroke="#35a53b" stroke-width="0.85"/>
<line x1="424.0" y1="225.8" x2="424.0" y2="238.3" stroke="#35a53b" stroke-width="0.9" />
<line x1="422.2" y1="225.8" x2="425.8" y2="225.8" stroke="#35a53b" stroke-width="0.9" />
<line x1="422.2" y1="238.3" x2="425.8" y2="238.3" stroke="#35a53b" stroke-width="0.9" />
<line x1="420.8" y1="232.0" x2="427.2" y2="232.0" stroke="#35a53b" stroke-width="1.08" />
<circle cx="441.2" cy="215.2" r="1.3" fill="none" stroke="#f7931e" stroke-width="0.8"/>
<circle cx="441.2" cy="224.2" r="1.3" fill="none" stroke="#35a53b" stroke-width="0.8"/>
<text x="446.0" y="217.5" font-size="7.0" text-anchor="start" fill="#231f20" stroke="#231f20" stroke-width="0.1" textLength="37.0" lengthAdjust="spacingAndGlyphs" >NTC treated</text>
<text x="446.0" y="226.5" font-size="7.0" text-anchor="start" fill="#231f20" stroke="#231f20" stroke-width="0.1" textLength="66.8" lengthAdjust="spacingAndGlyphs" >Tmprss6 RNAi treated</text>
<text x="8.8" y="318.8" font-size="12.2" text-anchor="start" fill="#000" font-weight="bold" >F</text>
<text transform="translate(21.5,380.5) rotate(-90)" font-size="8.0" text-anchor="middle" fill="#231f20" stroke="#231f20" stroke-width="0.2" textLength="58.6" lengthAdjust="spacingAndGlyphs" >Maternal liver iron</text>
<text transform="translate(31.6,380.5) rotate(-90)" font-size="8.0" text-anchor="middle" fill="#231f20" stroke="#231f20" stroke-width="0.2" textLength="62.8" lengthAdjust="spacingAndGlyphs" >µmole/g dry weight</text>
<line x1="52.8" y1="342.2" x2="52.8" y2="421.3" stroke="#231f20" stroke-width="1.3" />
<line x1="50.0" y1="343.3" x2="52.8" y2="343.3" stroke="#231f20" stroke-width="1.105" />
<text x="46.2" y="345.8" font-size="6.3" text-anchor="end" fill="#2e2e2e" stroke="#2e2e2e" stroke-width="0.03" textLength="7.71" lengthAdjust="spacingAndGlyphs" >12</text>
<line x1="50.0" y1="356.3" x2="52.8" y2="356.3" stroke="#231f20" stroke-width="1.105" />
<text x="46.2" y="358.8" font-size="6.3" text-anchor="end" fill="#2e2e2e" stroke="#2e2e2e" stroke-width="0.03" textLength="7.71" lengthAdjust="spacingAndGlyphs" >10</text>
<line x1="50.0" y1="369.3" x2="52.8" y2="369.3" stroke="#231f20" stroke-width="1.105" />
<text x="46.2" y="371.8" font-size="6.3" text-anchor="end" fill="#2e2e2e" stroke="#2e2e2e" stroke-width="0.03" textLength="3.85" lengthAdjust="spacingAndGlyphs" >8</text>
<line x1="50.0" y1="382.3" x2="52.8" y2="382.3" stroke="#231f20" stroke-width="1.105" />
<text x="46.2" y="384.8" font-size="6.3" text-anchor="end" fill="#2e2e2e" stroke="#2e2e2e" stroke-width="0.03" textLength="3.85" lengthAdjust="spacingAndGlyphs" >6</text>
<line x1="50.0" y1="395.3" x2="52.8" y2="395.3" stroke="#231f20" stroke-width="1.105" />
<text x="46.2" y="397.8" font-size="6.3" text-anchor="end" fill="#2e2e2e" stroke="#2e2e2e" stroke-width="0.03" textLength="3.85" lengthAdjust="spacingAndGlyphs" >4</text>
<line x1="50.0" y1="408.3" x2="52.8" y2="408.3" stroke="#231f20" stroke-width="1.105" />
<text x="46.2" y="410.8" font-size="6.3" text-anchor="end" fill="#2e2e2e" stroke="#2e2e2e" stroke-width="0.03" textLength="3.85" lengthAdjust="spacingAndGlyphs" >2</text>
<line x1="50.0" y1="421.3" x2="52.8" y2="421.3" stroke="#231f20" stroke-width="1.105" />
<text x="46.2" y="423.8" font-size="6.3" text-anchor="end" fill="#2e2e2e" stroke="#2e2e2e" stroke-width="0.03" textLength="3.85" lengthAdjust="spacingAndGlyphs" >0</text>
<line x1="52.8" y1="421.3" x2="130.8" y2="421.3" stroke="#231f20" stroke-width="1.3" />
<line x1="64.6" y1="421.3" x2="64.6" y2="424.1" stroke="#231f20" stroke-width="1.105" />
<line x1="91.0" y1="421.3" x2="91.0" y2="424.1" stroke="#231f20" stroke-width="1.105" />
<line x1="118.5" y1="421.3" x2="118.5" y2="424.1" stroke="#231f20" stroke-width="1.105" />
<text x="64.4" y="433.9" font-size="6.8" text-anchor="middle" fill="#2e2e2e" stroke="#2e2e2e" stroke-width="0.05" textLength="28.1" lengthAdjust="spacingAndGlyphs" >Unmated</text>
<text x="92.0" y="433.9" font-size="6.8" text-anchor="middle" fill="#2e2e2e" stroke="#2e2e2e" stroke-width="0.05" textLength="13.299999999999999" lengthAdjust="spacingAndGlyphs" >E8.5</text>
<text x="118.8" y="433.9" font-size="6.8" text-anchor="middle" fill="#2e2e2e" stroke="#2e2e2e" stroke-width="0.05" textLength="16.1" lengthAdjust="spacingAndGlyphs" >E14.5</text>
<polyline points="59.2,334.6 59.2,316.3 114.6,316.3 114.6,325.0" fill="none" stroke="#6d6e71" stroke-width="0.75"/>
<circle cx="83.95" cy="313.00" r="1.1" fill="#3c3c3e"/>
<circle cx="87.00" cy="313.00" r="1.1" fill="#3c3c3e"/>
<circle cx="90.05" cy="313.00" r="1.1" fill="#3c3c3e"/>
<polyline points="69.4,333.0 69.4,329.8 124.6,329.8 124.6,334.2" fill="none" stroke="#6d6e71" stroke-width="0.75"/>
<circle cx="92.22" cy="326.80" r="1.1" fill="#3c3c3e"/>
<circle cx="95.27" cy="326.80" r="1.1" fill="#3c3c3e"/>
<circle cx="98.32" cy="326.80" r="1.1" fill="#3c3c3e"/>
<circle cx="101.38" cy="326.80" r="1.1" fill="#3c3c3e"/>
<polyline points="59.2,349.0 59.2,344.8 69.4,344.8 69.4,349.0" fill="none" stroke="#6d6e71" stroke-width="0.75"/>
<text x="64.30000000000001" y="342.8" font-size="6.6" text-anchor="middle" fill="#414042" stroke="#414042" stroke-width="0.2" >ns</text>
<polyline points="86.7,355.8 86.7,344.8 96.7,344.8 96.7,370.0" fill="none" stroke="#6d6e71" stroke-width="0.75"/>
<text x="91.7" y="342.8" font-size="6.6" text-anchor="middle" fill="#414042" stroke="#414042" stroke-width="0.2" >ns</text>
<polyline points="114.0,371.0 114.0,344.8 124.6,344.8 124.6,378.8" fill="none" stroke="#6d6e71" stroke-width="0.75"/>
<text x="119.3" y="342.8" font-size="6.6" text-anchor="middle" fill="#414042" stroke="#414042" stroke-width="0.2" >ns</text>
<circle cx="59.20" cy="352.90" r="1.6" fill="none" stroke="#f7931e" stroke-width="0.85"/>
<circle cx="56.50" cy="352.90" r="1.6" fill="none" stroke="#f7931e" stroke-width="0.85"/>
<circle cx="59.20" cy="357.70" r="1.6" fill="none" stroke="#f7931e" stroke-width="0.85"/>
<circle cx="59.20" cy="366.30" r="1.6" fill="none" stroke="#f7931e" stroke-width="0.85"/>
<circle cx="56.50" cy="367.30" r="1.6" fill="none" stroke="#f7931e" stroke-width="0.85"/>
<circle cx="59.20" cy="372.00" r="1.6" fill="none" stroke="#f7931e" stroke-width="0.85"/>
<circle cx="59.20" cy="377.00" r="1.6" fill="none" stroke="#f7931e" stroke-width="0.85"/>
<circle cx="59.20" cy="380.80" r="1.6" fill="none" stroke="#f7931e" stroke-width="0.85"/>
<circle cx="59.20" cy="384.00" r="1.6" fill="none" stroke="#f7931e" stroke-width="0.85"/>
<circle cx="56.50" cy="385.20" r="1.6" fill="none" stroke="#f7931e" stroke-width="0.85"/>
<circle cx="59.20" cy="387.50" r="1.6" fill="none" stroke="#f7931e" stroke-width="0.85"/>
<line x1="59.2" y1="357.3" x2="59.2" y2="384.6" stroke="#f7931e" stroke-width="0.9" />
<line x1="57.400000000000006" y1="357.3" x2="61.0" y2="357.3" stroke="#f7931e" stroke-width="0.9" />
<line x1="57.400000000000006" y1="384.6" x2="61.0" y2="384.6" stroke="#f7931e" stroke-width="0.9" />
<line x1="56.0" y1="371.5" x2="62.400000000000006" y2="371.5" stroke="#f7931e" stroke-width="1.08" />
<circle cx="69.40" cy="353.50" r="1.6" fill="none" stroke="#35a53b" stroke-width="0.85"/>
<circle cx="69.40" cy="362.50" r="1.6" fill="none" stroke="#35a53b" stroke-width="0.85"/>
<circle cx="68.05" cy="365.00" r="1.6" fill="none" stroke="#35a53b" stroke-width="0.85"/>
<circle cx="70.75" cy="367.00" r="1.6" fill="none" stroke="#35a53b" stroke-width="0.85"/>
<circle cx="68.05" cy="368.60" r="1.6" fill="none" stroke="#35a53b" stroke-width="0.85"/>
<circle cx="70.75" cy="370.20" r="1.6" fill="none" stroke="#35a53b" stroke-width="0.85"/>
<circle cx="68.05" cy="372.00" r="1.6" fill="none" stroke="#35a53b" stroke-width="0.85"/>
<circle cx="69.40" cy="374.40" r="1.6" fill="none" stroke="#35a53b" stroke-width="0.85"/>
<circle cx="66.70" cy="376.60" r="1.6" fill="none" stroke="#35a53b" stroke-width="0.85"/>
<circle cx="69.40" cy="378.80" r="1.6" fill="none" stroke="#35a53b" stroke-width="0.85"/>
<line x1="69.4" y1="362.5" x2="69.4" y2="374.0" stroke="#35a53b" stroke-width="0.9" />
<line x1="67.60000000000001" y1="362.5" x2="71.2" y2="362.5" stroke="#35a53b" stroke-width="0.9" />
<line x1="67.60000000000001" y1="374.0" x2="71.2" y2="374.0" stroke="#35a53b" stroke-width="0.9" />
<line x1="66.2" y1="367.7" x2="72.60000000000001" y2="367.7" stroke="#35a53b" stroke-width="1.08" />
<circle cx="86.70" cy="359.60" r="1.6" fill="none" stroke="#f7931e" stroke-width="0.85"/>
<circle cx="86.70" cy="368.80" r="1.6" fill="none" stroke="#f7931e" stroke-width="0.85"/>
<circle cx="86.70" cy="372.00" r="1.6" fill="none" stroke="#f7931e" stroke-width="0.85"/>
<circle cx="85.35" cy="374.60" r="1.6" fill="none" stroke="#f7931e" stroke-width="0.85"/>
<circle cx="86.70" cy="377.00" r="1.6" fill="none" stroke="#f7931e" stroke-width="0.85"/>
<circle cx="84.00" cy="379.00" r="1.6" fill="none" stroke="#f7931e" stroke-width="0.85"/>
<circle cx="86.70" cy="381.00" r="1.6" fill="none" stroke="#f7931e" stroke-width="0.85"/>
<circle cx="84.00" cy="383.00" r="1.6" fill="none" stroke="#f7931e" stroke-width="0.85"/>
<circle cx="86.70" cy="385.20" r="1.6" fill="none" stroke="#f7931e" stroke-width="0.85"/>
<circle cx="84.00" cy="387.50" r="1.6" fill="none" stroke="#f7931e" stroke-width="0.85"/>
<line x1="86.7" y1="372.0" x2="86.7" y2="384.6" stroke="#f7931e" stroke-width="0.9" />
<line x1="84.9" y1="372.0" x2="88.5" y2="372.0" stroke="#f7931e" stroke-width="0.9" />
<line x1="84.9" y1="384.6" x2="88.5" y2="384.6" stroke="#f7931e" stroke-width="0.9" />
<line x1="83.5" y1="378.5" x2="89.9" y2="378.5" stroke="#f7931e" stroke-width="1.08" />
<circle cx="96.70" cy="373.00" r="1.6" fill="none" stroke="#35a53b" stroke-width="0.85"/>
<circle cx="94.00" cy="375.00" r="1.6" fill="none" stroke="#35a53b" stroke-width="0.85"/>
<circle cx="96.70" cy="377.00" r="1.6" fill="none" stroke="#35a53b" stroke-width="0.85"/>
<circle cx="94.00" cy="378.60" r="1.6" fill="none" stroke="#35a53b" stroke-width="0.85"/>
<circle cx="96.70" cy="380.20" r="1.6" fill="none" stroke="#35a53b" stroke-width="0.85"/>
<circle cx="94.00" cy="382.00" r="1.6" fill="none" stroke="#35a53b" stroke-width="0.85"/>
<circle cx="96.70" cy="384.60" r="1.6" fill="none" stroke="#35a53b" stroke-width="0.85"/>
<line x1="96.7" y1="374.0" x2="96.7" y2="382.0" stroke="#35a53b" stroke-width="0.9" />
<line x1="94.9" y1="374.0" x2="98.5" y2="374.0" stroke="#35a53b" stroke-width="0.9" />
<line x1="94.9" y1="382.0" x2="98.5" y2="382.0" stroke="#35a53b" stroke-width="0.9" />
<line x1="93.5" y1="377.9" x2="99.9" y2="377.9" stroke="#35a53b" stroke-width="1.08" />
<circle cx="114.00" cy="374.00" r="1.6" fill="none" stroke="#f7931e" stroke-width="0.85"/>
<circle cx="114.00" cy="378.80" r="1.6" fill="none" stroke="#f7931e" stroke-width="0.85"/>
<circle cx="112.65" cy="381.40" r="1.6" fill="none" stroke="#f7931e" stroke-width="0.85"/>
<circle cx="115.35" cy="383.60" r="1.6" fill="none" stroke="#f7931e" stroke-width="0.85"/>
<circle cx="112.65" cy="385.60" r="1.6" fill="none" stroke="#f7931e" stroke-width="0.85"/>
<circle cx="115.35" cy="387.60" r="1.6" fill="none" stroke="#f7931e" stroke-width="0.85"/>
<circle cx="112.65" cy="389.60" r="1.6" fill="none" stroke="#f7931e" stroke-width="0.85"/>
<circle cx="115.35" cy="391.60" r="1.6" fill="none" stroke="#f7931e" stroke-width="0.85"/>
<circle cx="112.65" cy="393.30" r="1.6" fill="none" stroke="#f7931e" stroke-width="0.85"/>
<line x1="114.0" y1="378.8" x2="114.0" y2="390.4" stroke="#f7931e" stroke-width="0.9" />
<line x1="112.2" y1="378.8" x2="115.8" y2="378.8" stroke="#f7931e" stroke-width="0.9" />
<line x1="112.2" y1="390.4" x2="115.8" y2="390.4" stroke="#f7931e" stroke-width="0.9" />
<line x1="110.8" y1="385.6" x2="117.2" y2="385.6" stroke="#f7931e" stroke-width="1.08" />
<circle cx="124.60" cy="379.80" r="1.6" fill="none" stroke="#35a53b" stroke-width="0.85"/>
<circle cx="121.90" cy="381.80" r="1.6" fill="none" stroke="#35a53b" stroke-width="0.85"/>
<circle cx="124.60" cy="383.60" r="1.6" fill="none" stroke="#35a53b" stroke-width="0.85"/>
<circle cx="121.90" cy="385.40" r="1.6" fill="none" stroke="#35a53b" stroke-width="0.85"/>
<circle cx="124.60" cy="387.20" r="1.6" fill="none" stroke="#35a53b" stroke-width="0.85"/>
<circle cx="121.90" cy="389.00" r="1.6" fill="none" stroke="#35a53b" stroke-width="0.85"/>
<circle cx="124.60" cy="391.00" r="1.6" fill="none" stroke="#35a53b" stroke-width="0.85"/>
<circle cx="121.90" cy="392.80" r="1.6" fill="none" stroke="#35a53b" stroke-width="0.85"/>
<circle cx="124.60" cy="394.20" r="1.6" fill="none" stroke="#35a53b" stroke-width="0.85"/>
<line x1="124.6" y1="380.6" x2="124.6" y2="389.4" stroke="#35a53b" stroke-width="0.9" />
<line x1="122.8" y1="380.6" x2="126.39999999999999" y2="380.6" stroke="#35a53b" stroke-width="0.9" />
<line x1="122.8" y1="389.4" x2="126.39999999999999" y2="389.4" stroke="#35a53b" stroke-width="0.9" />
<line x1="121.39999999999999" y1="384.6" x2="127.8" y2="384.6" stroke="#35a53b" stroke-width="1.08" />
<text x="147.0" y="318.8" font-size="12.2" text-anchor="start" fill="#000" font-weight="bold" >G</text>
<text transform="translate(167.0,380.5) rotate(-90)" font-size="8.0" text-anchor="middle" fill="#231f20" stroke="#231f20" stroke-width="0.2" textLength="65.8" lengthAdjust="spacingAndGlyphs" >Maternal spleen iron</text>
<text transform="translate(177.2,380.5) rotate(-90)" font-size="8.0" text-anchor="middle" fill="#231f20" stroke="#231f20" stroke-width="0.2" textLength="62.2" lengthAdjust="spacingAndGlyphs" >µmole/g dry weight</text>
<line x1="201.2" y1="342.2" x2="201.2" y2="421.3" stroke="#231f20" stroke-width="1.3" />
<line x1="198.39999999999998" y1="343.3" x2="201.2" y2="343.3" stroke="#231f20" stroke-width="1.105" />
<text x="195.5" y="345.8" font-size="6.3" text-anchor="end" fill="#2e2e2e" stroke="#2e2e2e" stroke-width="0.03" textLength="11.56" lengthAdjust="spacingAndGlyphs" >120</text>
<line x1="198.39999999999998" y1="356.3" x2="201.2" y2="356.3" stroke="#231f20" stroke-width="1.105" />
<text x="195.5" y="358.8" font-size="6.3" text-anchor="end" fill="#2e2e2e" stroke="#2e2e2e" stroke-width="0.03" textLength="11.56" lengthAdjust="spacingAndGlyphs" >100</text>
<line x1="198.39999999999998" y1="369.3" x2="201.2" y2="369.3" stroke="#231f20" stroke-width="1.105" />
<text x="195.5" y="371.8" font-size="6.3" text-anchor="end" fill="#2e2e2e" stroke="#2e2e2e" stroke-width="0.03" textLength="7.71" lengthAdjust="spacingAndGlyphs" >80</text>
<line x1="198.39999999999998" y1="382.3" x2="201.2" y2="382.3" stroke="#231f20" stroke-width="1.105" />
<text x="195.5" y="384.8" font-size="6.3" text-anchor="end" fill="#2e2e2e" stroke="#2e2e2e" stroke-width="0.03" textLength="7.71" lengthAdjust="spacingAndGlyphs" >60</text>
<line x1="198.39999999999998" y1="395.3" x2="201.2" y2="395.3" stroke="#231f20" stroke-width="1.105" />
<text x="195.5" y="397.8" font-size="6.3" text-anchor="end" fill="#2e2e2e" stroke="#2e2e2e" stroke-width="0.03" textLength="7.71" lengthAdjust="spacingAndGlyphs" >40</text>
<line x1="198.39999999999998" y1="408.3" x2="201.2" y2="408.3" stroke="#231f20" stroke-width="1.105" />
<text x="195.5" y="410.8" font-size="6.3" text-anchor="end" fill="#2e2e2e" stroke="#2e2e2e" stroke-width="0.03" textLength="7.71" lengthAdjust="spacingAndGlyphs" >20</text>
<line x1="198.39999999999998" y1="421.3" x2="201.2" y2="421.3" stroke="#231f20" stroke-width="1.105" />
<text x="195.5" y="423.8" font-size="6.3" text-anchor="end" fill="#2e2e2e" stroke="#2e2e2e" stroke-width="0.03" textLength="3.85" lengthAdjust="spacingAndGlyphs" >0</text>
<line x1="201.2" y1="421.3" x2="279.6" y2="421.3" stroke="#231f20" stroke-width="1.3" />
<line x1="212.3" y1="421.3" x2="212.3" y2="424.1" stroke="#231f20" stroke-width="1.105" />
<line x1="240.3" y1="421.3" x2="240.3" y2="424.1" stroke="#231f20" stroke-width="1.105" />
<line x1="267.7" y1="421.3" x2="267.7" y2="424.1" stroke="#231f20" stroke-width="1.105" />
<text x="212.9" y="434.2" font-size="6.8" text-anchor="middle" fill="#2e2e2e" stroke="#2e2e2e" stroke-width="0.05" textLength="28.8" lengthAdjust="spacingAndGlyphs" >Unmated</text>
<text x="240.2" y="434.2" font-size="6.8" text-anchor="middle" fill="#2e2e2e" stroke="#2e2e2e" stroke-width="0.05" textLength="14.2" lengthAdjust="spacingAndGlyphs" >E8.5</text>
<text x="268.0" y="434.2" font-size="6.8" text-anchor="middle" fill="#2e2e2e" stroke="#2e2e2e" stroke-width="0.05" textLength="16.6" lengthAdjust="spacingAndGlyphs" >E14.5</text>
<polyline points="207.5,359.4 207.5,347.3 218.4,347.3 218.4,353.4" fill="none" stroke="#6d6e71" stroke-width="0.75"/>
<circle cx="211.42" cy="344.20" r="1.1" fill="#3c3c3e"/>
<circle cx="214.47" cy="344.20" r="1.1" fill="#3c3c3e"/>
<polyline points="235.2,365.5 235.2,347.3 245.5,347.3 245.5,359.4" fill="none" stroke="#6d6e71" stroke-width="0.75"/>
<circle cx="237.30" cy="344.20" r="1.1" fill="#3c3c3e"/>
<circle cx="240.35" cy="344.20" r="1.1" fill="#3c3c3e"/>
<circle cx="243.40" cy="344.20" r="1.1" fill="#3c3c3e"/>
<polyline points="262.5,388.0 262.5,347.3 272.9,347.3 272.9,380.2" fill="none" stroke="#6d6e71" stroke-width="0.75"/>
<circle cx="267.70" cy="344.20" r="1.1" fill="#3c3c3e"/>
<circle cx="207.50" cy="364.60" r="1.6" fill="none" stroke="#f7931e" stroke-width="0.85"/>
<circle cx="207.50" cy="370.70" r="1.6" fill="none" stroke="#f7931e" stroke-width="0.85"/>
<circle cx="207.50" cy="375.00" r="1.6" fill="none" stroke="#f7931e" stroke-width="0.85"/>
<circle cx="207.50" cy="378.60" r="1.6" fill="none" stroke="#f7931e" stroke-width="0.85"/>
<circle cx="207.50" cy="381.60" r="1.6" fill="none" stroke="#f7931e" stroke-width="0.85"/>
<circle cx="207.50" cy="384.40" r="1.6" fill="none" stroke="#f7931e" stroke-width="0.85"/>
<circle cx="206.15" cy="386.80" r="1.6" fill="none" stroke="#f7931e" stroke-width="0.85"/>
<circle cx="208.85" cy="388.80" r="1.6" fill="none" stroke="#f7931e" stroke-width="0.85"/>
<circle cx="206.15" cy="390.80" r="1.6" fill="none" stroke="#f7931e" stroke-width="0.85"/>
<circle cx="208.85" cy="392.80" r="1.6" fill="none" stroke="#f7931e" stroke-width="0.85"/>
<circle cx="206.15" cy="394.90" r="1.6" fill="none" stroke="#f7931e" stroke-width="0.85"/>
<line x1="207.5" y1="376.0" x2="207.5" y2="392.0" stroke="#f7931e" stroke-width="0.9" />
<line x1="205.7" y1="376.0" x2="209.3" y2="376.0" stroke="#f7931e" stroke-width="0.9" />
<line x1="205.7" y1="392.0" x2="209.3" y2="392.0" stroke="#f7931e" stroke-width="0.9" />
<line x1="204.3" y1="384.4" x2="210.7" y2="384.4" stroke="#f7931e" stroke-width="1.08" />
<circle cx="218.40" cy="356.00" r="1.6" fill="none" stroke="#35a53b" stroke-width="0.85"/>
<circle cx="218.40" cy="362.00" r="1.6" fill="none" stroke="#35a53b" stroke-width="0.85"/>
<circle cx="215.70" cy="363.70" r="1.6" fill="none" stroke="#35a53b" stroke-width="0.85"/>
<circle cx="218.40" cy="368.60" r="1.6" fill="none" stroke="#35a53b" stroke-width="0.85"/>
<circle cx="218.40" cy="372.80" r="1.6" fill="none" stroke="#35a53b" stroke-width="0.85"/>
<circle cx="218.40" cy="375.60" r="1.6" fill="none" stroke="#35a53b" stroke-width="0.85"/>
<circle cx="218.40" cy="378.60" r="1.6" fill="none" stroke="#35a53b" stroke-width="0.85"/>
<circle cx="218.40" cy="381.60" r="1.6" fill="none" stroke="#35a53b" stroke-width="0.85"/>
<circle cx="218.40" cy="385.40" r="1.6" fill="none" stroke="#35a53b" stroke-width="0.85"/>
<line x1="218.4" y1="362.9" x2="218.4" y2="382.0" stroke="#35a53b" stroke-width="0.9" />
<line x1="216.6" y1="362.9" x2="220.20000000000002" y2="362.9" stroke="#35a53b" stroke-width="0.9" />
<line x1="216.6" y1="382.0" x2="220.20000000000002" y2="382.0" stroke="#35a53b" stroke-width="0.9" />
<line x1="215.20000000000002" y1="374.1" x2="221.6" y2="374.1" stroke="#35a53b" stroke-width="1.08" />
<circle cx="235.20" cy="369.80" r="1.6" fill="none" stroke="#f7931e" stroke-width="0.85"/>
<circle cx="235.20" cy="380.00" r="1.6" fill="none" stroke="#f7931e" stroke-width="0.85"/>
<circle cx="235.20" cy="383.60" r="1.6" fill="none" stroke="#f7931e" stroke-width="0.85"/>
<circle cx="235.20" cy="386.40" r="1.6" fill="none" stroke="#f7931e" stroke-width="0.85"/>
<circle cx="233.85" cy="388.80" r="1.6" fill="none" stroke="#f7931e" stroke-width="0.85"/>
<circle cx="236.55" cy="391.00" r="1.6" fill="none" stroke="#f7931e" stroke-width="0.85"/>
<circle cx="233.85" cy="393.20" r="1.6" fill="none" stroke="#f7931e" stroke-width="0.85"/>
<circle cx="236.55" cy="395.40" r="1.6" fill="none" stroke="#f7931e" stroke-width="0.85"/>
<circle cx="233.85" cy="397.40" r="1.6" fill="none" stroke="#f7931e" stroke-width="0.85"/>
<circle cx="236.55" cy="399.20" r="1.6" fill="none" stroke="#f7931e" stroke-width="0.85"/>
<line x1="235.2" y1="381.0" x2="235.2" y2="395.6" stroke="#f7931e" stroke-width="0.9" />
<line x1="233.39999999999998" y1="381.0" x2="237.0" y2="381.0" stroke="#f7931e" stroke-width="0.9" />
<line x1="233.39999999999998" y1="395.6" x2="237.0" y2="395.6" stroke="#f7931e" stroke-width="0.9" />
<line x1="232.0" y1="388.0" x2="238.39999999999998" y2="388.0" stroke="#f7931e" stroke-width="1.08" />
<circle cx="245.50" cy="362.90" r="1.6" fill="none" stroke="#35a53b" stroke-width="0.85"/>
<circle cx="245.50" cy="366.00" r="1.6" fill="none" stroke="#35a53b" stroke-width="0.85"/>
<circle cx="245.50" cy="368.80" r="1.6" fill="none" stroke="#35a53b" stroke-width="0.85"/>
<circle cx="244.15" cy="371.40" r="1.6" fill="none" stroke="#35a53b" stroke-width="0.85"/>
<circle cx="245.50" cy="373.80" r="1.6" fill="none" stroke="#35a53b" stroke-width="0.85"/>
<circle cx="242.80" cy="376.00" r="1.6" fill="none" stroke="#35a53b" stroke-width="0.85"/>
<circle cx="245.50" cy="378.40" r="1.6" fill="none" stroke="#35a53b" stroke-width="0.85"/>
<circle cx="244.15" cy="380.80" r="1.6" fill="none" stroke="#35a53b" stroke-width="0.85"/>
<circle cx="245.50" cy="383.60" r="1.6" fill="none" stroke="#35a53b" stroke-width="0.85"/>
<circle cx="245.50" cy="387.10" r="1.6" fill="none" stroke="#35a53b" stroke-width="0.85"/>
<line x1="245.5" y1="367.4" x2="245.5" y2="382.0" stroke="#35a53b" stroke-width="0.9" />
<line x1="243.7" y1="367.4" x2="247.3" y2="367.4" stroke="#35a53b" stroke-width="0.9" />
<line x1="243.7" y1="382.0" x2="247.3" y2="382.0" stroke="#35a53b" stroke-width="0.9" />
<line x1="242.3" y1="374.7" x2="248.7" y2="374.7" stroke="#35a53b" stroke-width="1.08" />
<circle cx="262.50" cy="391.00" r="1.6" fill="none" stroke="#f7931e" stroke-width="0.85"/>
<circle cx="261.15" cy="393.40" r="1.6" fill="none" stroke="#f7931e" stroke-width="0.85"/>
<circle cx="263.85" cy="395.40" r="1.6" fill="none" stroke="#f7931e" stroke-width="0.85"/>
<circle cx="261.15" cy="397.40" r="1.6" fill="none" stroke="#f7931e" stroke-width="0.85"/>
<circle cx="263.85" cy="399.20" r="1.6" fill="none" stroke="#f7931e" stroke-width="0.85"/>
<circle cx="261.15" cy="400.80" r="1.6" fill="none" stroke="#f7931e" stroke-width="0.85"/>
<circle cx="263.85" cy="402.40" r="1.6" fill="none" stroke="#f7931e" stroke-width="0.85"/>
<circle cx="261.15" cy="404.20" r="1.6" fill="none" stroke="#f7931e" stroke-width="0.85"/>
<circle cx="263.85" cy="406.20" r="1.6" fill="none" stroke="#f7931e" stroke-width="0.85"/>
<line x1="262.5" y1="394.0" x2="262.5" y2="405.4" stroke="#f7931e" stroke-width="0.9" />
<line x1="260.7" y1="394.0" x2="264.3" y2="394.0" stroke="#f7931e" stroke-width="0.9" />
<line x1="260.7" y1="405.4" x2="264.3" y2="405.4" stroke="#f7931e" stroke-width="0.9" />
<line x1="259.3" y1="400.0" x2="265.7" y2="400.0" stroke="#f7931e" stroke-width="1.08" />
<circle cx="272.90" cy="382.80" r="1.6" fill="none" stroke="#35a53b" stroke-width="0.85"/>
<circle cx="271.55" cy="385.40" r="1.6" fill="none" stroke="#35a53b" stroke-width="0.85"/>
<circle cx="274.25" cy="387.40" r="1.6" fill="none" stroke="#35a53b" stroke-width="0.85"/>
<circle cx="271.55" cy="389.00" r="1.6" fill="none" stroke="#35a53b" stroke-width="0.85"/>
<circle cx="274.25" cy="390.60" r="1.6" fill="none" stroke="#35a53b" stroke-width="0.85"/>
<circle cx="271.55" cy="392.20" r="1.6" fill="none" stroke="#35a53b" stroke-width="0.85"/>
<circle cx="274.25" cy="393.80" r="1.6" fill="none" stroke="#35a53b" stroke-width="0.85"/>
<circle cx="271.55" cy="395.20" r="1.6" fill="none" stroke="#35a53b" stroke-width="0.85"/>
<circle cx="274.25" cy="396.60" r="1.6" fill="none" stroke="#35a53b" stroke-width="0.85"/>
<line x1="272.9" y1="386.4" x2="272.9" y2="395.0" stroke="#35a53b" stroke-width="0.9" />
<line x1="271.09999999999997" y1="386.4" x2="274.7" y2="386.4" stroke="#35a53b" stroke-width="0.9" />
<line x1="271.09999999999997" y1="395.0" x2="274.7" y2="395.0" stroke="#35a53b" stroke-width="0.9" />
<line x1="269.7" y1="391.0" x2="276.09999999999997" y2="391.0" stroke="#35a53b" stroke-width="1.08" />
<text x="295.4" y="318.8" font-size="12.2" text-anchor="start" fill="#000" font-weight="bold" >H</text>
<text transform="translate(315.3,380.45) rotate(-90)" font-size="8.0" text-anchor="middle" fill="#231f20" stroke="#231f20" stroke-width="0.2" textLength="60.0" lengthAdjust="spacingAndGlyphs" >Serum iron (ug/dL)</text>
<line x1="338.6" y1="342.0" x2="338.6" y2="421.4" stroke="#231f20" stroke-width="1.3" />
<line x1="335.8" y1="343.0" x2="338.6" y2="343.0" stroke="#231f20" stroke-width="1.105" />
<text x="332.4" y="345.5" font-size="6.3" text-anchor="end" fill="#2e2e2e" stroke="#2e2e2e" stroke-width="0.03" textLength="11.56" lengthAdjust="spacingAndGlyphs" >200</text>
<line x1="335.8" y1="361.8" x2="338.6" y2="361.8" stroke="#231f20" stroke-width="1.105" />
<text x="332.4" y="364.3" font-size="6.3" text-anchor="end" fill="#2e2e2e" stroke="#2e2e2e" stroke-width="0.03" textLength="11.56" lengthAdjust="spacingAndGlyphs" >150</text>
<line x1="335.8" y1="380.6" x2="338.6" y2="380.6" stroke="#231f20" stroke-width="1.105" />
<text x="332.4" y="383.1" font-size="6.3" text-anchor="end" fill="#2e2e2e" stroke="#2e2e2e" stroke-width="0.03" textLength="11.56" lengthAdjust="spacingAndGlyphs" >100</text>
<line x1="335.8" y1="399.3" x2="338.6" y2="399.3" stroke="#231f20" stroke-width="1.105" />
<text x="332.4" y="401.8" font-size="6.3" text-anchor="end" fill="#2e2e2e" stroke="#2e2e2e" stroke-width="0.03" textLength="7.71" lengthAdjust="spacingAndGlyphs" >50</text>
<line x1="335.8" y1="418.0" x2="338.6" y2="418.0" stroke="#231f20" stroke-width="1.105" />
<text x="332.4" y="420.5" font-size="6.3" text-anchor="end" fill="#2e2e2e" stroke="#2e2e2e" stroke-width="0.03" textLength="3.85" lengthAdjust="spacingAndGlyphs" >0</text>
<line x1="338.6" y1="421.4" x2="338.6" y2="421.4" stroke="#231f20" stroke-width="1.0" />
<line x1="338.6" y1="421.4" x2="416.4" y2="421.4" stroke="#231f20" stroke-width="1.3" />
<line x1="350.3" y1="421.4" x2="350.3" y2="424.2" stroke="#231f20" stroke-width="1.105" />
<line x1="378.0" y1="421.4" x2="378.0" y2="424.2" stroke="#231f20" stroke-width="1.105" />
<line x1="404.8" y1="421.4" x2="404.8" y2="424.2" stroke="#231f20" stroke-width="1.105" />
<line x1="341" y1="418.0" x2="416" y2="418.0" stroke="#9d9fa2" stroke-width="0.6" stroke-dasharray="0.8,1.4"/>
<text x="350.6" y="434.2" font-size="6.8" text-anchor="middle" fill="#2e2e2e" stroke="#2e2e2e" stroke-width="0.05" textLength="28.200000000000003" lengthAdjust="spacingAndGlyphs" >Unmated</text>
<text x="378.3" y="434.2" font-size="6.8" text-anchor="middle" fill="#2e2e2e" stroke="#2e2e2e" stroke-width="0.05" textLength="14.2" lengthAdjust="spacingAndGlyphs" >E8.5</text>
<text x="405.6" y="434.2" font-size="6.8" text-anchor="middle" fill="#2e2e2e" stroke="#2e2e2e" stroke-width="0.05" textLength="18.400000000000002" lengthAdjust="spacingAndGlyphs" >E14.5</text>
<polyline points="346.0,353.4 346.0,348.2 356.3,348.2 356.3,383.6" fill="none" stroke="#6d6e71" stroke-width="0.75"/>
<circle cx="346.57" cy="345.00" r="1.1" fill="#3c3c3e"/>
<circle cx="349.62" cy="345.00" r="1.1" fill="#3c3c3e"/>
<circle cx="352.68" cy="345.00" r="1.1" fill="#3c3c3e"/>
<circle cx="355.72" cy="345.00" r="1.1" fill="#3c3c3e"/>
<polyline points="372.8,382.0 372.8,348.2 383.2,348.2 383.2,398.4" fill="none" stroke="#6d6e71" stroke-width="0.75"/>
<text x="378.0" y="346.40000000000003" font-size="6.6" text-anchor="middle" fill="#414042" stroke="#414042" stroke-width="0.2" >ns</text>
<polyline points="400.1,363.7 400.1,348.2 410.2,348.2 410.2,409.4" fill="none" stroke="#6d6e71" stroke-width="0.75"/>
<circle cx="400.57" cy="345.00" r="1.1" fill="#3c3c3e"/>
<circle cx="403.62" cy="345.00" r="1.1" fill="#3c3c3e"/>
<circle cx="406.68" cy="345.00" r="1.1" fill="#3c3c3e"/>
<circle cx="409.72" cy="345.00" r="1.1" fill="#3c3c3e"/>
<circle cx="346.00" cy="357.00" r="1.6" fill="none" stroke="#f7931e" stroke-width="0.85"/>
<circle cx="346.00" cy="361.80" r="1.6" fill="none" stroke="#f7931e" stroke-width="0.85"/>
<circle cx="343.30" cy="362.60" r="1.6" fill="none" stroke="#f7931e" stroke-width="0.85"/>
<circle cx="348.70" cy="363.60" r="1.6" fill="none" stroke="#f7931e" stroke-width="0.85"/>
<circle cx="346.00" cy="366.00" r="1.6" fill="none" stroke="#f7931e" stroke-width="0.85"/>
<circle cx="346.00" cy="369.40" r="1.6" fill="none" stroke="#f7931e" stroke-width="0.85"/>
<circle cx="346.00" cy="381.60" r="1.6" fill="none" stroke="#f7931e" stroke-width="0.85"/>
<circle cx="346.00" cy="388.00" r="1.6" fill="none" stroke="#f7931e" stroke-width="0.85"/>
<circle cx="346.00" cy="418.00" r="1.6" fill="none" stroke="#f7931e" stroke-width="0.85"/>
<circle cx="343.30" cy="418.00" r="1.6" fill="none" stroke="#f7931e" stroke-width="0.85"/>
<line x1="346.0" y1="357.3" x2="346.0" y2="403.6" stroke="#f7931e" stroke-width="0.9" />
<line x1="344.2" y1="357.3" x2="347.8" y2="357.3" stroke="#f7931e" stroke-width="0.9" />
<line x1="344.2" y1="403.6" x2="347.8" y2="403.6" stroke="#f7931e" stroke-width="0.9" />
<line x1="342.8" y1="381.6" x2="349.2" y2="381.6" stroke="#f7931e" stroke-width="1.08" />
<circle cx="356.30" cy="387.80" r="1.6" fill="none" stroke="#35a53b" stroke-width="0.85"/>
<circle cx="353.60" cy="389.60" r="1.6" fill="none" stroke="#35a53b" stroke-width="0.85"/>
<circle cx="356.30" cy="418.00" r="1.6" fill="none" stroke="#35a53b" stroke-width="0.85"/>
<circle cx="353.60" cy="418.00" r="1.6" fill="none" stroke="#35a53b" stroke-width="0.85"/>
<line x1="356.3" y1="396.6" x2="356.3" y2="418.0" stroke="#35a53b" stroke-width="0.9" />
<line x1="354.5" y1="396.6" x2="358.1" y2="396.6" stroke="#35a53b" stroke-width="0.9" />
<line x1="354.5" y1="418.0" x2="358.1" y2="418.0" stroke="#35a53b" stroke-width="0.9" />
<line x1="353.1" y1="407.9" x2="359.5" y2="407.9" stroke="#35a53b" stroke-width="1.08" />
<circle cx="372.80" cy="385.00" r="1.6" fill="none" stroke="#f7931e" stroke-width="0.85"/>
<circle cx="372.80" cy="393.40" r="1.6" fill="none" stroke="#f7931e" stroke-width="0.85"/>
<circle cx="370.10" cy="395.60" r="1.6" fill="none" stroke="#f7931e" stroke-width="0.85"/>
<circle cx="372.80" cy="399.40" r="1.6" fill="none" stroke="#f7931e" stroke-width="0.85"/>
<circle cx="370.10" cy="401.20" r="1.6" fill="none" stroke="#f7931e" stroke-width="0.85"/>
<circle cx="372.80" cy="403.20" r="1.6" fill="none" stroke="#f7931e" stroke-width="0.85"/>
<circle cx="372.80" cy="408.80" r="1.6" fill="none" stroke="#f7931e" stroke-width="0.85"/>
<circle cx="372.80" cy="418.00" r="1.6" fill="none" stroke="#f7931e" stroke-width="0.85"/>
<line x1="372.8" y1="391.4" x2="372.8" y2="408.7" stroke="#f7931e" stroke-width="0.9" />
<line x1="371.0" y1="391.4" x2="374.6" y2="391.4" stroke="#f7931e" stroke-width="0.9" />
<line x1="371.0" y1="408.7" x2="374.6" y2="408.7" stroke="#f7931e" stroke-width="0.9" />
<line x1="369.6" y1="400.1" x2="376.0" y2="400.1" stroke="#f7931e" stroke-width="1.08" />
<circle cx="383.20" cy="402.80" r="1.6" fill="none" stroke="#35a53b" stroke-width="0.85"/>
<circle cx="383.20" cy="406.60" r="1.6" fill="none" stroke="#35a53b" stroke-width="0.85"/>
<circle cx="380.50" cy="408.40" r="1.6" fill="none" stroke="#35a53b" stroke-width="0.85"/>
<circle cx="383.20" cy="410.40" r="1.6" fill="none" stroke="#35a53b" stroke-width="0.85"/>
<circle cx="380.50" cy="412.20" r="1.6" fill="none" stroke="#35a53b" stroke-width="0.85"/>
<circle cx="383.20" cy="414.00" r="1.6" fill="none" stroke="#35a53b" stroke-width="0.85"/>
<circle cx="380.50" cy="416.20" r="1.6" fill="none" stroke="#35a53b" stroke-width="0.85"/>
<circle cx="383.20" cy="418.00" r="1.6" fill="none" stroke="#35a53b" stroke-width="0.85"/>
<line x1="383.2" y1="404.0" x2="383.2" y2="417.0" stroke="#35a53b" stroke-width="0.9" />
<line x1="381.4" y1="404.0" x2="385.0" y2="404.0" stroke="#35a53b" stroke-width="0.9" />
<line x1="381.4" y1="417.0" x2="385.0" y2="417.0" stroke="#35a53b" stroke-width="0.9" />
<line x1="380.0" y1="410.4" x2="386.4" y2="410.4" stroke="#35a53b" stroke-width="1.08" />
<circle cx="400.10" cy="368.00" r="1.6" fill="none" stroke="#f7931e" stroke-width="0.85"/>
<circle cx="400.10" cy="378.00" r="1.6" fill="none" stroke="#f7931e" stroke-width="0.85"/>
<circle cx="400.10" cy="381.80" r="1.6" fill="none" stroke="#f7931e" stroke-width="0.85"/>
<circle cx="400.10" cy="387.60" r="1.6" fill="none" stroke="#f7931e" stroke-width="0.85"/>
<circle cx="397.40" cy="389.40" r="1.6" fill="none" stroke="#f7931e" stroke-width="0.85"/>
<circle cx="400.10" cy="391.30" r="1.6" fill="none" stroke="#f7931e" stroke-width="0.85"/>
<circle cx="400.10" cy="395.00" r="1.6" fill="none" stroke="#f7931e" stroke-width="0.85"/>
<circle cx="400.10" cy="398.80" r="1.6" fill="none" stroke="#f7931e" stroke-width="0.85"/>
<circle cx="397.40" cy="400.80" r="1.6" fill="none" stroke="#f7931e" stroke-width="0.85"/>
<circle cx="400.10" cy="407.20" r="1.6" fill="none" stroke="#f7931e" stroke-width="0.85"/>
<line x1="400.1" y1="378.5" x2="400.1" y2="401.0" stroke="#f7931e" stroke-width="0.9" />
<line x1="398.3" y1="378.5" x2="401.90000000000003" y2="378.5" stroke="#f7931e" stroke-width="0.9" />
<line x1="398.3" y1="401.0" x2="401.90000000000003" y2="401.0" stroke="#f7931e" stroke-width="0.9" />
<line x1="396.90000000000003" y1="390.6" x2="403.3" y2="390.6" stroke="#f7931e" stroke-width="1.08" />
<circle cx="410.20" cy="409.40" r="1.6" fill="none" stroke="#35a53b" stroke-width="0.85"/>
<circle cx="407.50" cy="411.60" r="1.6" fill="none" stroke="#35a53b" stroke-width="0.85"/>
<circle cx="410.20" cy="413.60" r="1.6" fill="none" stroke="#35a53b" stroke-width="0.85"/>
<circle cx="407.50" cy="415.60" r="1.6" fill="none" stroke="#35a53b" stroke-width="0.85"/>
<circle cx="410.20" cy="417.40" r="1.6" fill="none" stroke="#35a53b" stroke-width="0.85"/>
<circle cx="412.90" cy="418.00" r="1.6" fill="none" stroke="#35a53b" stroke-width="0.85"/>
<line x1="410.2" y1="411.0" x2="410.2" y2="418.0" stroke="#35a53b" stroke-width="0.9" />
<line x1="408.4" y1="411.0" x2="412.0" y2="411.0" stroke="#35a53b" stroke-width="0.9" />
<line x1="408.4" y1="418.0" x2="412.0" y2="418.0" stroke="#35a53b" stroke-width="0.9" />
<line x1="407.0" y1="414.8" x2="413.4" y2="414.8" stroke="#35a53b" stroke-width="1.08" />
<circle cx="432.5" cy="376.3" r="1.3" fill="none" stroke="#f7931e" stroke-width="0.8"/>
<circle cx="432.5" cy="386.0" r="1.3" fill="none" stroke="#35a53b" stroke-width="0.8"/>
<text x="437.0" y="378.6" font-size="7.0" text-anchor="start" fill="#231f20" stroke="#231f20" stroke-width="0.1" textLength="37.8" lengthAdjust="spacingAndGlyphs" >NTC treated</text>
<text x="437.0" y="388.3" font-size="7.0" text-anchor="start" fill="#231f20" stroke="#231f20" stroke-width="0.1" textLength="67.0" lengthAdjust="spacingAndGlyphs" >Tmprss6 RNAi treated</text>
<text x="13.0" y="461.8" font-size="12.2" text-anchor="start" fill="#000" font-weight="bold" >I</text>
<text transform="translate(26.6,508.65) rotate(-90)" font-size="8.0" text-anchor="middle" fill="#231f20" stroke="#231f20" stroke-width="0.2" textLength="61.0" lengthAdjust="spacingAndGlyphs" >Hemoglobin (g/dL)</text>
<line x1="46.5" y1="469.6" x2="46.5" y2="549.3" stroke="#231f20" stroke-width="1.3" />
<line x1="43.7" y1="470.7" x2="46.5" y2="470.7" stroke="#231f20" stroke-width="1.105" />
<text x="41.0" y="473.2" font-size="6.3" text-anchor="end" fill="#2e2e2e" stroke="#2e2e2e" stroke-width="0.03" textLength="7.71" lengthAdjust="spacingAndGlyphs" >20</text>
<line x1="43.7" y1="490.3" x2="46.5" y2="490.3" stroke="#231f20" stroke-width="1.105" />
<text x="41.0" y="492.8" font-size="6.3" text-anchor="end" fill="#2e2e2e" stroke="#2e2e2e" stroke-width="0.03" textLength="7.71" lengthAdjust="spacingAndGlyphs" >15</text>
<line x1="43.7" y1="509.9" x2="46.5" y2="509.9" stroke="#231f20" stroke-width="1.105" />
<text x="41.0" y="512.4" font-size="6.3" text-anchor="end" fill="#2e2e2e" stroke="#2e2e2e" stroke-width="0.03" textLength="7.71" lengthAdjust="spacingAndGlyphs" >10</text>
<line x1="43.7" y1="529.6" x2="46.5" y2="529.6" stroke="#231f20" stroke-width="1.105" />
<text x="41.0" y="532.1" font-size="6.3" text-anchor="end" fill="#2e2e2e" stroke="#2e2e2e" stroke-width="0.03" textLength="3.85" lengthAdjust="spacingAndGlyphs" >5</text>
<line x1="43.7" y1="549.2" x2="46.5" y2="549.2" stroke="#231f20" stroke-width="1.105" />
<text x="41.0" y="551.7" font-size="6.3" text-anchor="end" fill="#2e2e2e" stroke="#2e2e2e" stroke-width="0.03" textLength="3.85" lengthAdjust="spacingAndGlyphs" >0</text>
<line x1="46.5" y1="549.3" x2="125.0" y2="549.3" stroke="#231f20" stroke-width="1.3" />
<line x1="57.7" y1="549.3" x2="57.7" y2="552.0999999999999" stroke="#231f20" stroke-width="1.105" />
<line x1="85.9" y1="549.3" x2="85.9" y2="552.0999999999999" stroke="#231f20" stroke-width="1.105" />
<line x1="113.6" y1="549.3" x2="113.6" y2="552.0999999999999" stroke="#231f20" stroke-width="1.105" />
<text x="58.2" y="561.6" font-size="6.8" text-anchor="middle" fill="#2e2e2e" stroke="#2e2e2e" stroke-width="0.05" textLength="28.3" lengthAdjust="spacingAndGlyphs" >Unmated</text>
<text x="85.9" y="561.6" font-size="6.8" text-anchor="middle" fill="#2e2e2e" stroke="#2e2e2e" stroke-width="0.05" textLength="14.4" lengthAdjust="spacingAndGlyphs" >E8.5</text>
<text x="113.6" y="561.6" font-size="6.8" text-anchor="middle" fill="#2e2e2e" stroke="#2e2e2e" stroke-width="0.05" textLength="16.900000000000002" lengthAdjust="spacingAndGlyphs" >E14.5</text>
<polyline points="53.0,476.6 53.0,470.6 63.4,470.6 63.4,481.8" fill="none" stroke="#6d6e71" stroke-width="0.75"/>
<text x="58.2" y="468.0" font-size="6.6" text-anchor="middle" fill="#414042" stroke="#414042" stroke-width="0.2" >ns</text>
<polyline points="81.0,489.6 81.0,470.6 90.7,470.6 90.7,484.4" fill="none" stroke="#6d6e71" stroke-width="0.75"/>
<text x="85.85" y="468.0" font-size="6.6" text-anchor="middle" fill="#414042" stroke="#414042" stroke-width="0.2" >ns</text>
<polyline points="108.4,482.7 108.4,470.6 118.2,470.6 118.2,506.0" fill="none" stroke="#6d6e71" stroke-width="0.75"/>
<circle cx="108.73" cy="467.00" r="1.1" fill="#3c3c3e"/>
<circle cx="111.78" cy="467.00" r="1.1" fill="#3c3c3e"/>
<circle cx="114.83" cy="467.00" r="1.1" fill="#3c3c3e"/>
<circle cx="117.88" cy="467.00" r="1.1" fill="#3c3c3e"/>
<circle cx="53.00" cy="478.40" r="1.6" fill="none" stroke="#f7931e" stroke-width="0.85"/>
<circle cx="53.00" cy="482.60" r="1.6" fill="none" stroke="#f7931e" stroke-width="0.85"/>
<circle cx="50.30" cy="484.60" r="1.6" fill="none" stroke="#f7931e" stroke-width="0.85"/>
<circle cx="53.00" cy="486.40" r="1.6" fill="none" stroke="#f7931e" stroke-width="0.85"/>
<circle cx="50.30" cy="488.00" r="1.6" fill="none" stroke="#f7931e" stroke-width="0.85"/>
<circle cx="53.00" cy="489.60" r="1.6" fill="none" stroke="#f7931e" stroke-width="0.85"/>
<circle cx="50.30" cy="491.20" r="1.6" fill="none" stroke="#f7931e" stroke-width="0.85"/>
<circle cx="53.00" cy="493.00" r="1.6" fill="none" stroke="#f7931e" stroke-width="0.85"/>
<circle cx="50.30" cy="494.80" r="1.6" fill="none" stroke="#f7931e" stroke-width="0.85"/>
<circle cx="53.00" cy="496.50" r="1.6" fill="none" stroke="#f7931e" stroke-width="0.85"/>
<line x1="53.0" y1="483.6" x2="53.0" y2="493.0" stroke="#f7931e" stroke-width="0.9" />
<line x1="51.2" y1="483.6" x2="54.8" y2="483.6" stroke="#f7931e" stroke-width="0.9" />
<line x1="51.2" y1="493.0" x2="54.8" y2="493.0" stroke="#f7931e" stroke-width="0.9" />
<line x1="49.8" y1="487.9" x2="56.2" y2="487.9" stroke="#f7931e" stroke-width="1.08" />
<circle cx="63.40" cy="482.70" r="1.6" fill="none" stroke="#35a53b" stroke-width="0.85"/>
<circle cx="62.05" cy="485.30" r="1.6" fill="none" stroke="#35a53b" stroke-width="0.85"/>
<circle cx="63.40" cy="496.50" r="1.6" fill="none" stroke="#35a53b" stroke-width="0.85"/>
<circle cx="63.40" cy="500.90" r="1.6" fill="none" stroke="#35a53b" stroke-width="0.85"/>
<circle cx="63.40" cy="504.30" r="1.6" fill="none" stroke="#35a53b" stroke-width="0.85"/>
<line x1="63.4" y1="486.2" x2="63.4" y2="500.9" stroke="#35a53b" stroke-width="0.9" />
<line x1="61.6" y1="486.2" x2="65.2" y2="486.2" stroke="#35a53b" stroke-width="0.9" />
<line x1="61.6" y1="500.9" x2="65.2" y2="500.9" stroke="#35a53b" stroke-width="0.9" />
<line x1="60.199999999999996" y1="493.0" x2="66.6" y2="493.0" stroke="#35a53b" stroke-width="1.08" />
<rect x="77.6" y="494.6" width="7.2" height="6.4" fill="#f7931e"/>
<circle cx="81.00" cy="494.80" r="1.6" fill="#f7931e"/>
<circle cx="78.30" cy="496.40" r="1.6" fill="#f7931e"/>
<circle cx="81.00" cy="498.00" r="1.6" fill="#f7931e"/>
<circle cx="78.30" cy="499.40" r="1.6" fill="#f7931e"/>
<circle cx="81.00" cy="500.90" r="1.6" fill="#f7931e"/>
<line x1="81.0" y1="495.6" x2="81.0" y2="500.0" stroke="#f7931e" stroke-width="0.9" />
<line x1="79.2" y1="495.6" x2="82.8" y2="495.6" stroke="#f7931e" stroke-width="0.9" />
<line x1="79.2" y1="500.0" x2="82.8" y2="500.0" stroke="#f7931e" stroke-width="0.9" />
<line x1="77.8" y1="497.8" x2="84.2" y2="497.8" stroke="#f7931e" stroke-width="1.08" />
<circle cx="90.70" cy="487.90" r="1.6" fill="none" stroke="#35a53b" stroke-width="0.85"/>
<circle cx="90.70" cy="494.80" r="1.6" fill="none" stroke="#35a53b" stroke-width="0.85"/>
<circle cx="88.00" cy="496.80" r="1.6" fill="none" stroke="#35a53b" stroke-width="0.85"/>
<circle cx="90.70" cy="498.60" r="1.6" fill="none" stroke="#35a53b" stroke-width="0.85"/>
<circle cx="88.00" cy="500.20" r="1.6" fill="none" stroke="#35a53b" stroke-width="0.85"/>
<circle cx="90.70" cy="501.80" r="1.6" fill="none" stroke="#35a53b" stroke-width="0.85"/>
<circle cx="88.00" cy="503.40" r="1.6" fill="none" stroke="#35a53b" stroke-width="0.85"/>
<circle cx="90.70" cy="505.00" r="1.6" fill="none" stroke="#35a53b" stroke-width="0.85"/>
<circle cx="93.40" cy="506.00" r="1.6" fill="none" stroke="#35a53b" stroke-width="0.85"/>
<line x1="90.7" y1="495.6" x2="90.7" y2="504.6" stroke="#35a53b" stroke-width="0.9" />
<line x1="88.9" y1="495.6" x2="92.5" y2="495.6" stroke="#35a53b" stroke-width="0.9" />
<line x1="88.9" y1="504.6" x2="92.5" y2="504.6" stroke="#35a53b" stroke-width="0.9" />
<line x1="87.5" y1="500.3" x2="93.9" y2="500.3" stroke="#35a53b" stroke-width="1.08" />
<circle cx="108.40" cy="484.00" r="1.6" fill="none" stroke="#f7931e" stroke-width="0.85"/>
<circle cx="107.05" cy="486.60" r="1.6" fill="none" stroke="#f7931e" stroke-width="0.85"/>
<circle cx="108.40" cy="489.00" r="1.6" fill="none" stroke="#f7931e" stroke-width="0.85"/>
<circle cx="105.70" cy="491.20" r="1.6" fill="none" stroke="#f7931e" stroke-width="0.85"/>
<circle cx="108.40" cy="493.20" r="1.6" fill="none" stroke="#f7931e" stroke-width="0.85"/>
<circle cx="105.70" cy="495.20" r="1.6" fill="none" stroke="#f7931e" stroke-width="0.85"/>
<circle cx="108.40" cy="497.20" r="1.6" fill="none" stroke="#f7931e" stroke-width="0.85"/>
<circle cx="105.70" cy="499.20" r="1.6" fill="none" stroke="#f7931e" stroke-width="0.85"/>
<circle cx="108.40" cy="501.20" r="1.6" fill="none" stroke="#f7931e" stroke-width="0.85"/>
<circle cx="105.70" cy="503.20" r="1.6" fill="none" stroke="#f7931e" stroke-width="0.85"/>
<circle cx="108.40" cy="505.00" r="1.6" fill="none" stroke="#f7931e" stroke-width="0.85"/>
<circle cx="105.70" cy="506.90" r="1.6" fill="none" stroke="#f7931e" stroke-width="0.85"/>
<line x1="108.4" y1="490.4" x2="108.4" y2="504.0" stroke="#f7931e" stroke-width="0.9" />
<line x1="106.60000000000001" y1="490.4" x2="110.2" y2="490.4" stroke="#f7931e" stroke-width="0.9" />
<line x1="106.60000000000001" y1="504.0" x2="110.2" y2="504.0" stroke="#f7931e" stroke-width="0.9" />
<line x1="105.2" y1="497.4" x2="111.60000000000001" y2="497.4" stroke="#f7931e" stroke-width="1.08" />
<circle cx="118.20" cy="510.40" r="1.6" fill="none" stroke="#35a53b" stroke-width="0.85"/>
<circle cx="115.50" cy="512.40" r="1.6" fill="none" stroke="#35a53b" stroke-width="0.85"/>
<circle cx="118.20" cy="514.20" r="1.6" fill="none" stroke="#35a53b" stroke-width="0.85"/>
<circle cx="115.50" cy="515.80" r="1.6" fill="none" stroke="#35a53b" stroke-width="0.85"/>
<circle cx="118.20" cy="517.40" r="1.6" fill="none" stroke="#35a53b" stroke-width="0.85"/>
<circle cx="116.85" cy="519.90" r="1.6" fill="none" stroke="#35a53b" stroke-width="0.85"/>
<circle cx="118.20" cy="527.30" r="1.6" fill="none" stroke="#35a53b" stroke-width="0.85"/>
<line x1="118.2" y1="510.6" x2="118.2" y2="519.4" stroke="#35a53b" stroke-width="0.9" />
<line x1="116.4" y1="510.6" x2="120.0" y2="510.6" stroke="#35a53b" stroke-width="0.9" />
<line x1="116.4" y1="519.4" x2="120.0" y2="519.4" stroke="#35a53b" stroke-width="0.9" />
<line x1="115.0" y1="514.7" x2="121.4" y2="514.7" stroke="#35a53b" stroke-width="1.08" />
<text x="147.0" y="461.5" font-size="12.2" text-anchor="start" fill="#000" font-weight="bold" >J</text>
<text transform="translate(172.7,508.4) rotate(-90)" font-size="8.0" text-anchor="middle" fill="#231f20" stroke="#231f20" stroke-width="0.2" textLength="25.8" lengthAdjust="spacingAndGlyphs" >MCV (fL)</text>
<line x1="192.9" y1="469.6" x2="192.9" y2="549.6" stroke="#231f20" stroke-width="1.3" />
<line x1="190.1" y1="470.8" x2="192.9" y2="470.8" stroke="#231f20" stroke-width="1.105" />
<text x="187.2" y="473.3" font-size="6.3" text-anchor="end" fill="#2e2e2e" stroke="#2e2e2e" stroke-width="0.03" textLength="7.71" lengthAdjust="spacingAndGlyphs" >60</text>
<line x1="190.1" y1="486.6" x2="192.9" y2="486.6" stroke="#231f20" stroke-width="1.105" />
<text x="187.2" y="489.1" font-size="6.3" text-anchor="end" fill="#2e2e2e" stroke="#2e2e2e" stroke-width="0.03" textLength="7.71" lengthAdjust="spacingAndGlyphs" >55</text>
<line x1="190.1" y1="502.5" x2="192.9" y2="502.5" stroke="#231f20" stroke-width="1.105" />
<text x="187.2" y="505.0" font-size="6.3" text-anchor="end" fill="#2e2e2e" stroke="#2e2e2e" stroke-width="0.03" textLength="7.71" lengthAdjust="spacingAndGlyphs" >50</text>
<line x1="190.1" y1="518.3" x2="192.9" y2="518.3" stroke="#231f20" stroke-width="1.105" />
<text x="187.2" y="520.8" font-size="6.3" text-anchor="end" fill="#2e2e2e" stroke="#2e2e2e" stroke-width="0.03" textLength="7.71" lengthAdjust="spacingAndGlyphs" >45</text>
<line x1="190.1" y1="534.0" x2="192.9" y2="534.0" stroke="#231f20" stroke-width="1.105" />
<text x="187.2" y="536.5" font-size="6.3" text-anchor="end" fill="#2e2e2e" stroke="#2e2e2e" stroke-width="0.03" textLength="7.71" lengthAdjust="spacingAndGlyphs" >40</text>
<line x1="190.1" y1="549.6" x2="192.9" y2="549.6" stroke="#231f20" stroke-width="1.105" />
<text x="187.2" y="552.1" font-size="6.3" text-anchor="end" fill="#2e2e2e" stroke="#2e2e2e" stroke-width="0.03" textLength="7.71" lengthAdjust="spacingAndGlyphs" >35</text>
<line x1="192.9" y1="549.6" x2="270.6" y2="549.6" stroke="#231f20" stroke-width="1.3" />
<line x1="203.9" y1="549.6" x2="203.9" y2="552.4" stroke="#231f20" stroke-width="1.105" />
<line x1="231.9" y1="549.6" x2="231.9" y2="552.4" stroke="#231f20" stroke-width="1.105" />
<line x1="259.6" y1="549.6" x2="259.6" y2="552.4" stroke="#231f20" stroke-width="1.105" />
<text x="204.8" y="562.2" font-size="6.8" text-anchor="middle" fill="#2e2e2e" stroke="#2e2e2e" stroke-width="0.05" textLength="28.1" lengthAdjust="spacingAndGlyphs" >Unmated</text>
<text x="232.3" y="562.2" font-size="6.8" text-anchor="middle" fill="#2e2e2e" stroke="#2e2e2e" stroke-width="0.05" textLength="14.0" lengthAdjust="spacingAndGlyphs" >E8.5</text>
<text x="260.2" y="562.2" font-size="6.8" text-anchor="middle" fill="#2e2e2e" stroke="#2e2e2e" stroke-width="0.05" textLength="17.200000000000003" lengthAdjust="spacingAndGlyphs" >E14.5</text>
<polyline points="199.8,489.6 199.8,480.3 210.2,480.3 210.2,491.9" fill="none" stroke="#6d6e71" stroke-width="0.75"/>
<circle cx="203.47" cy="477.00" r="1.1" fill="#3c3c3e"/>
<circle cx="206.53" cy="477.00" r="1.1" fill="#3c3c3e"/>
<polyline points="226.9,488.0 226.9,480.3 237.1,480.3 237.1,498.7" fill="none" stroke="#6d6e71" stroke-width="0.75"/>
<circle cx="228.95" cy="477.00" r="1.1" fill="#3c3c3e"/>
<circle cx="232.00" cy="477.00" r="1.1" fill="#3c3c3e"/>
<circle cx="235.05" cy="477.00" r="1.1" fill="#3c3c3e"/>
<polyline points="254.4,484.6 254.4,480.3 265.0,480.3 265.0,514.8" fill="none" stroke="#6d6e71" stroke-width="0.75"/>
<circle cx="255.12" cy="477.00" r="1.1" fill="#3c3c3e"/>
<circle cx="258.18" cy="477.00" r="1.1" fill="#3c3c3e"/>
<circle cx="261.23" cy="477.00" r="1.1" fill="#3c3c3e"/>
<circle cx="264.27" cy="477.00" r="1.1" fill="#3c3c3e"/>
<circle cx="199.80" cy="493.70" r="1.6" fill="none" stroke="#f7931e" stroke-width="0.85"/>
<circle cx="197.10" cy="495.00" r="1.6" fill="none" stroke="#f7931e" stroke-width="0.85"/>
<circle cx="201.15" cy="496.20" r="1.6" fill="none" stroke="#f7931e" stroke-width="0.85"/>
<circle cx="198.45" cy="497.40" r="1.6" fill="none" stroke="#f7931e" stroke-width="0.85"/>
<circle cx="202.50" cy="498.60" r="1.6" fill="none" stroke="#f7931e" stroke-width="0.85"/>
<circle cx="199.80" cy="499.80" r="1.6" fill="none" stroke="#f7931e" stroke-width="0.85"/>
<circle cx="197.10" cy="501.00" r="1.6" fill="none" stroke="#f7931e" stroke-width="0.85"/>
<circle cx="199.80" cy="502.70" r="1.6" fill="none" stroke="#f7931e" stroke-width="0.85"/>
<line x1="199.8" y1="494.6" x2="199.8" y2="501.2" stroke="#f7931e" stroke-width="0.9" />
<line x1="198.0" y1="494.6" x2="201.60000000000002" y2="494.6" stroke="#f7931e" stroke-width="0.9" />
<line x1="198.0" y1="501.2" x2="201.60000000000002" y2="501.2" stroke="#f7931e" stroke-width="0.9" />
<line x1="196.60000000000002" y1="497.8" x2="203.0" y2="497.8" stroke="#f7931e" stroke-width="1.08" />
<circle cx="210.20" cy="496.20" r="1.6" fill="none" stroke="#35a53b" stroke-width="0.85"/>
<circle cx="207.50" cy="497.40" r="1.6" fill="none" stroke="#35a53b" stroke-width="0.85"/>
<circle cx="210.20" cy="502.30" r="1.6" fill="none" stroke="#35a53b" stroke-width="0.85"/>
<circle cx="210.20" cy="507.10" r="1.6" fill="none" stroke="#35a53b" stroke-width="0.85"/>
<circle cx="210.20" cy="512.90" r="1.6" fill="none" stroke="#35a53b" stroke-width="0.85"/>
<circle cx="208.85" cy="515.40" r="1.6" fill="none" stroke="#35a53b" stroke-width="0.85"/>
<circle cx="211.55" cy="517.70" r="1.6" fill="none" stroke="#35a53b" stroke-width="0.85"/>
<line x1="210.2" y1="498.2" x2="210.2" y2="516.6" stroke="#35a53b" stroke-width="0.9" />
<line x1="208.39999999999998" y1="498.2" x2="212.0" y2="498.2" stroke="#35a53b" stroke-width="0.9" />
<line x1="208.39999999999998" y1="516.6" x2="212.0" y2="516.6" stroke="#35a53b" stroke-width="0.9" />
<line x1="207.0" y1="507.1" x2="213.39999999999998" y2="507.1" stroke="#35a53b" stroke-width="1.08" />
<circle cx="226.90" cy="491.70" r="1.6" fill="none" stroke="#f7931e" stroke-width="0.85"/>
<circle cx="224.20" cy="493.40" r="1.6" fill="none" stroke="#f7931e" stroke-width="0.85"/>
<circle cx="226.90" cy="495.00" r="1.6" fill="none" stroke="#f7931e" stroke-width="0.85"/>
<circle cx="224.20" cy="496.60" r="1.6" fill="none" stroke="#f7931e" stroke-width="0.85"/>
<circle cx="226.90" cy="498.20" r="1.6" fill="none" stroke="#f7931e" stroke-width="0.85"/>
<circle cx="224.20" cy="499.80" r="1.6" fill="none" stroke="#f7931e" stroke-width="0.85"/>
<circle cx="226.90" cy="501.40" r="1.6" fill="none" stroke="#f7931e" stroke-width="0.85"/>
<circle cx="224.20" cy="503.20" r="1.6" fill="none" stroke="#f7931e" stroke-width="0.85"/>
<circle cx="226.90" cy="505.20" r="1.6" fill="none" stroke="#f7931e" stroke-width="0.85"/>
<line x1="226.9" y1="493.4" x2="226.9" y2="502.6" stroke="#f7931e" stroke-width="0.9" />
<line x1="225.1" y1="493.4" x2="228.70000000000002" y2="493.4" stroke="#f7931e" stroke-width="0.9" />
<line x1="225.1" y1="502.6" x2="228.70000000000002" y2="502.6" stroke="#f7931e" stroke-width="0.9" />
<line x1="223.70000000000002" y1="497.6" x2="230.1" y2="497.6" stroke="#f7931e" stroke-width="1.08" />
<circle cx="237.10" cy="499.40" r="1.6" fill="none" stroke="#35a53b" stroke-width="0.85"/>
<circle cx="237.10" cy="503.00" r="1.6" fill="none" stroke="#35a53b" stroke-width="0.85"/>
<circle cx="235.75" cy="505.40" r="1.6" fill="none" stroke="#35a53b" stroke-width="0.85"/>
<circle cx="238.45" cy="507.60" r="1.6" fill="none" stroke="#35a53b" stroke-width="0.85"/>
<circle cx="235.75" cy="509.60" r="1.6" fill="none" stroke="#35a53b" stroke-width="0.85"/>
<circle cx="238.45" cy="511.40" r="1.6" fill="none" stroke="#35a53b" stroke-width="0.85"/>
<circle cx="235.75" cy="513.20" r="1.6" fill="none" stroke="#35a53b" stroke-width="0.85"/>
<circle cx="238.45" cy="515.20" r="1.6" fill="none" stroke="#35a53b" stroke-width="0.85"/>
<circle cx="235.75" cy="517.40" r="1.6" fill="none" stroke="#35a53b" stroke-width="0.85"/>
<circle cx="237.10" cy="521.20" r="1.6" fill="none" stroke="#35a53b" stroke-width="0.85"/>
<line x1="237.1" y1="504.0" x2="237.1" y2="518.0" stroke="#35a53b" stroke-width="0.9" />
<line x1="235.29999999999998" y1="504.0" x2="238.9" y2="504.0" stroke="#35a53b" stroke-width="0.9" />
<line x1="235.29999999999998" y1="518.0" x2="238.9" y2="518.0" stroke="#35a53b" stroke-width="0.9" />
<line x1="233.9" y1="511.0" x2="240.29999999999998" y2="511.0" stroke="#35a53b" stroke-width="1.08" />
<circle cx="254.40" cy="488.50" r="1.6" fill="none" stroke="#f7931e" stroke-width="0.85"/>
<circle cx="254.40" cy="491.40" r="1.6" fill="none" stroke="#f7931e" stroke-width="0.85"/>
<circle cx="251.70" cy="493.40" r="1.6" fill="none" stroke="#f7931e" stroke-width="0.85"/>
<circle cx="254.40" cy="495.00" r="1.6" fill="none" stroke="#f7931e" stroke-width="0.85"/>
<circle cx="251.70" cy="496.60" r="1.6" fill="none" stroke="#f7931e" stroke-width="0.85"/>
<circle cx="254.40" cy="498.20" r="1.6" fill="none" stroke="#f7931e" stroke-width="0.85"/>
<circle cx="251.70" cy="500.40" r="1.6" fill="none" stroke="#f7931e" stroke-width="0.85"/>
<circle cx="254.40" cy="503.30" r="1.6" fill="none" stroke="#f7931e" stroke-width="0.85"/>
<line x1="254.4" y1="492.6" x2="254.4" y2="500.0" stroke="#f7931e" stroke-width="0.9" />
<line x1="252.6" y1="492.6" x2="256.2" y2="492.6" stroke="#f7931e" stroke-width="0.9" />
<line x1="252.6" y1="500.0" x2="256.2" y2="500.0" stroke="#f7931e" stroke-width="0.9" />
<line x1="251.20000000000002" y1="496.2" x2="257.6" y2="496.2" stroke="#f7931e" stroke-width="1.08" />
<circle cx="265.00" cy="517.70" r="1.6" fill="none" stroke="#35a53b" stroke-width="0.85"/>
<circle cx="262.30" cy="520.00" r="1.6" fill="none" stroke="#35a53b" stroke-width="0.85"/>
<circle cx="265.00" cy="522.00" r="1.6" fill="none" stroke="#35a53b" stroke-width="0.85"/>
<circle cx="262.30" cy="523.80" r="1.6" fill="none" stroke="#35a53b" stroke-width="0.85"/>
<circle cx="265.00" cy="525.40" r="1.6" fill="none" stroke="#35a53b" stroke-width="0.85"/>
<circle cx="262.30" cy="527.00" r="1.6" fill="none" stroke="#35a53b" stroke-width="0.85"/>
<circle cx="265.00" cy="528.60" r="1.6" fill="none" stroke="#35a53b" stroke-width="0.85"/>
<circle cx="262.30" cy="530.40" r="1.6" fill="none" stroke="#35a53b" stroke-width="0.85"/>
<circle cx="265.00" cy="532.40" r="1.6" fill="none" stroke="#35a53b" stroke-width="0.85"/>
<circle cx="262.30" cy="534.60" r="1.6" fill="none" stroke="#35a53b" stroke-width="0.85"/>
<line x1="265.0" y1="520.6" x2="265.0" y2="530.6" stroke="#35a53b" stroke-width="0.9" />
<line x1="263.2" y1="520.6" x2="266.8" y2="520.6" stroke="#35a53b" stroke-width="0.9" />
<line x1="263.2" y1="530.6" x2="266.8" y2="530.6" stroke="#35a53b" stroke-width="0.9" />
<line x1="261.8" y1="525.4" x2="268.2" y2="525.4" stroke="#35a53b" stroke-width="1.08" />
<circle cx="281.2" cy="503.8" r="1.5" fill="#f7931e"/>
<circle cx="281.2" cy="513.5" r="1.3" fill="none" stroke="#35a53b" stroke-width="0.8"/>
<text x="285.8" y="506.1" font-size="7.0" text-anchor="start" fill="#231f20" stroke="#231f20" stroke-width="0.1" textLength="38.2" lengthAdjust="spacingAndGlyphs" >NTC treated</text>
<text x="285.8" y="515.8" font-size="7.0" text-anchor="start" fill="#231f20" stroke="#231f20" stroke-width="0.1" textLength="68.0" lengthAdjust="spacingAndGlyphs" >Tmprss6 RNAi treated</text>
<text x="13.4" y="589.4" font-size="12.2" text-anchor="start" fill="#000" font-weight="bold" >K</text>
<text transform="translate(22.0,642.5) rotate(-90)" font-size="8.0" text-anchor="middle" fill="#231f20" stroke="#231f20" stroke-width="0.2" textLength="73.5" lengthAdjust="spacingAndGlyphs" >Maternal liver <tspan font-style="italic">Id1</tspan> qPCR</text>
<text transform="translate(31.8,642.5) rotate(-90)" font-size="8.0" text-anchor="middle" fill="#231f20" stroke="#231f20" stroke-width="0.2" textLength="98.0" lengthAdjust="spacingAndGlyphs" >fold change (vs unmated NTC)</text>
<line x1="56.0" y1="603.8" x2="56.0" y2="683.1" stroke="#231f20" stroke-width="1.3" />
<line x1="53.2" y1="605.1" x2="56.0" y2="605.1" stroke="#231f20" stroke-width="1.105" />
<text x="50.0" y="607.6" font-size="6.3" text-anchor="end" fill="#2e2e2e" stroke="#2e2e2e" stroke-width="0.03" textLength="11.56" lengthAdjust="spacingAndGlyphs" >100</text>
<line x1="53.2" y1="631.2" x2="56.0" y2="631.2" stroke="#231f20" stroke-width="1.105" />
<text x="50.0" y="633.7" font-size="6.3" text-anchor="end" fill="#2e2e2e" stroke="#2e2e2e" stroke-width="0.03" textLength="7.71" lengthAdjust="spacingAndGlyphs" >10</text>
<line x1="53.2" y1="657.2" x2="56.0" y2="657.2" stroke="#231f20" stroke-width="1.105" />
<text x="50.0" y="659.7" font-size="6.3" text-anchor="end" fill="#2e2e2e" stroke="#2e2e2e" stroke-width="0.03" textLength="3.85" lengthAdjust="spacingAndGlyphs" >1</text>
<line x1="53.2" y1="683.1" x2="56.0" y2="683.1" stroke="#231f20" stroke-width="1.105" />
<text x="50.0" y="685.6" font-size="6.3" text-anchor="end" fill="#2e2e2e" stroke="#2e2e2e" stroke-width="0.03" textLength="9.63" lengthAdjust="spacingAndGlyphs" >0.1</text>
<line x1="56.0" y1="683.1" x2="135.8" y2="683.1" stroke="#231f20" stroke-width="1.3" />
<line x1="68.3" y1="683.1" x2="68.3" y2="685.9" stroke="#231f20" stroke-width="1.105" />
<line x1="95.8" y1="683.1" x2="95.8" y2="685.9" stroke="#231f20" stroke-width="1.105" />
<line x1="123.1" y1="683.1" x2="123.1" y2="685.9" stroke="#231f20" stroke-width="1.105" />
<text x="68.0" y="696.3000000000001" font-size="6.8" text-anchor="middle" fill="#2e2e2e" stroke="#2e2e2e" stroke-width="0.05" textLength="28.3" lengthAdjust="spacingAndGlyphs" >Unmated</text>
<text x="95.6" y="696.3000000000001" font-size="6.8" text-anchor="middle" fill="#2e2e2e" stroke="#2e2e2e" stroke-width="0.05" textLength="10.4" lengthAdjust="spacingAndGlyphs" >8.5</text>
<text x="123.3" y="696.3000000000001" font-size="6.8" text-anchor="middle" fill="#2e2e2e" stroke="#2e2e2e" stroke-width="0.05" textLength="12.9" lengthAdjust="spacingAndGlyphs" >14.5</text>
<polyline points="63.1,649.0 63.1,620.2 73.5,620.2 73.5,636.5" fill="none" stroke="#6d6e71" stroke-width="0.75"/>
<text x="68.3" y="617.1999999999999" font-size="6.6" text-anchor="middle" fill="#414042" stroke="#414042" stroke-width="0.2" >ns</text>
<polyline points="90.4,643.8 90.4,620.2 101.0,620.2 101.0,635.6" fill="none" stroke="#6d6e71" stroke-width="0.75"/>
<text x="95.7" y="617.1999999999999" font-size="6.6" text-anchor="middle" fill="#414042" stroke="#414042" stroke-width="0.2" >ns</text>
<polyline points="117.7,631.7 117.7,620.2 127.9,620.2 127.9,625.0" fill="none" stroke="#6d6e71" stroke-width="0.75"/>
<text x="122.80000000000001" y="617.1999999999999" font-size="6.6" text-anchor="middle" fill="#414042" stroke="#414042" stroke-width="0.2" >ns</text>
<circle cx="63.10" cy="651.90" r="1.6" fill="none" stroke="#f7931e" stroke-width="0.85"/>
<circle cx="60.40" cy="653.60" r="1.6" fill="none" stroke="#f7931e" stroke-width="0.85"/>
<circle cx="63.10" cy="655.20" r="1.6" fill="none" stroke="#f7931e" stroke-width="0.85"/>
<circle cx="60.40" cy="656.60" r="1.6" fill="none" stroke="#f7931e" stroke-width="0.85"/>
<circle cx="63.10" cy="658.00" r="1.6" fill="none" stroke="#f7931e" stroke-width="0.85"/>
<circle cx="60.40" cy="659.60" r="1.6" fill="none" stroke="#f7931e" stroke-width="0.85"/>
<circle cx="63.10" cy="661.40" r="1.6" fill="none" stroke="#f7931e" stroke-width="0.85"/>
<circle cx="60.40" cy="663.60" r="1.6" fill="none" stroke="#f7931e" stroke-width="0.85"/>
<circle cx="63.10" cy="667.30" r="1.6" fill="none" stroke="#f7931e" stroke-width="0.85"/>
<line x1="63.1" y1="653.0" x2="63.1" y2="661.0" stroke="#f7931e" stroke-width="0.9" />
<line x1="61.300000000000004" y1="653.0" x2="64.9" y2="653.0" stroke="#f7931e" stroke-width="0.9" />
<line x1="61.300000000000004" y1="661.0" x2="64.9" y2="661.0" stroke="#f7931e" stroke-width="0.9" />
<line x1="59.9" y1="656.7" x2="66.3" y2="656.7" stroke="#f7931e" stroke-width="1.08" />
<circle cx="73.50" cy="637.50" r="1.6" fill="none" stroke="#35a53b" stroke-width="0.85"/>
<circle cx="73.50" cy="640.60" r="1.6" fill="none" stroke="#35a53b" stroke-width="0.85"/>
<circle cx="73.50" cy="643.40" r="1.6" fill="none" stroke="#35a53b" stroke-width="0.85"/>
<circle cx="72.15" cy="645.80" r="1.6" fill="none" stroke="#35a53b" stroke-width="0.85"/>
<circle cx="74.85" cy="648.00" r="1.6" fill="none" stroke="#35a53b" stroke-width="0.85"/>
<circle cx="73.50" cy="650.40" r="1.6" fill="none" stroke="#35a53b" stroke-width="0.85"/>
<circle cx="73.50" cy="653.40" r="1.6" fill="none" stroke="#35a53b" stroke-width="0.85"/>
<circle cx="73.50" cy="657.60" r="1.6" fill="none" stroke="#35a53b" stroke-width="0.85"/>
<circle cx="73.50" cy="663.50" r="1.6" fill="none" stroke="#35a53b" stroke-width="0.85"/>
<line x1="73.5" y1="641.0" x2="73.5" y2="655.0" stroke="#35a53b" stroke-width="0.9" />
<line x1="71.7" y1="641.0" x2="75.3" y2="641.0" stroke="#35a53b" stroke-width="0.9" />
<line x1="71.7" y1="655.0" x2="75.3" y2="655.0" stroke="#35a53b" stroke-width="0.9" />
<line x1="70.3" y1="647.7" x2="76.7" y2="647.7" stroke="#35a53b" stroke-width="1.08" />
<circle cx="90.40" cy="643.30" r="1.6" fill="none" stroke="#f7931e" stroke-width="0.85"/>
<circle cx="87.70" cy="645.40" r="1.6" fill="none" stroke="#f7931e" stroke-width="0.85"/>
<circle cx="90.40" cy="647.40" r="1.6" fill="none" stroke="#f7931e" stroke-width="0.85"/>
<circle cx="87.70" cy="649.20" r="1.6" fill="none" stroke="#f7931e" stroke-width="0.85"/>
<circle cx="90.40" cy="651.00" r="1.6" fill="none" stroke="#f7931e" stroke-width="0.85"/>
<circle cx="87.70" cy="653.20" r="1.6" fill="none" stroke="#f7931e" stroke-width="0.85"/>
<circle cx="90.40" cy="656.00" r="1.6" fill="none" stroke="#f7931e" stroke-width="0.85"/>
<circle cx="90.40" cy="663.80" r="1.6" fill="none" stroke="#f7931e" stroke-width="0.85"/>
<circle cx="87.70" cy="663.80" r="1.6" fill="none" stroke="#f7931e" stroke-width="0.85"/>
<line x1="90.4" y1="644.0" x2="90.4" y2="656.6" stroke="#f7931e" stroke-width="0.9" />
<line x1="88.60000000000001" y1="644.0" x2="92.2" y2="644.0" stroke="#f7931e" stroke-width="0.9" />
<line x1="88.60000000000001" y1="656.6" x2="92.2" y2="656.6" stroke="#f7931e" stroke-width="0.9" />
<line x1="87.2" y1="649.6" x2="93.60000000000001" y2="649.6" stroke="#f7931e" stroke-width="1.08" />
<circle cx="101.00" cy="636.50" r="1.6" fill="none" stroke="#35a53b" stroke-width="0.85"/>
<circle cx="98.30" cy="638.80" r="1.6" fill="none" stroke="#35a53b" stroke-width="0.85"/>
<circle cx="101.00" cy="641.60" r="1.6" fill="none" stroke="#35a53b" stroke-width="0.85"/>
<circle cx="101.00" cy="644.40" r="1.6" fill="none" stroke="#35a53b" stroke-width="0.85"/>
<circle cx="101.00" cy="647.20" r="1.6" fill="none" stroke="#35a53b" stroke-width="0.85"/>
<circle cx="101.00" cy="650.00" r="1.6" fill="none" stroke="#35a53b" stroke-width="0.85"/>
<circle cx="101.00" cy="653.00" r="1.6" fill="none" stroke="#35a53b" stroke-width="0.85"/>
<circle cx="101.00" cy="656.60" r="1.6" fill="none" stroke="#35a53b" stroke-width="0.85"/>
<circle cx="101.00" cy="670.80" r="1.6" fill="none" stroke="#35a53b" stroke-width="0.85"/>
<line x1="101.0" y1="640.0" x2="101.0" y2="653.6" stroke="#35a53b" stroke-width="0.9" />
<line x1="99.2" y1="640.0" x2="102.8" y2="640.0" stroke="#35a53b" stroke-width="0.9" />
<line x1="99.2" y1="653.6" x2="102.8" y2="653.6" stroke="#35a53b" stroke-width="0.9" />
<line x1="97.8" y1="646.2" x2="104.2" y2="646.2" stroke="#35a53b" stroke-width="1.08" />
<circle cx="117.70" cy="635.60" r="1.6" fill="none" stroke="#f7931e" stroke-width="0.85"/>
<circle cx="115.00" cy="637.80" r="1.6" fill="none" stroke="#f7931e" stroke-width="0.85"/>
<circle cx="117.70" cy="640.00" r="1.6" fill="none" stroke="#f7931e" stroke-width="0.85"/>
<circle cx="115.00" cy="642.20" r="1.6" fill="none" stroke="#f7931e" stroke-width="0.85"/>
<circle cx="117.70" cy="644.60" r="1.6" fill="none" stroke="#f7931e" stroke-width="0.85"/>
<circle cx="116.35" cy="647.00" r="1.6" fill="none" stroke="#f7931e" stroke-width="0.85"/>
<circle cx="117.70" cy="650.00" r="1.6" fill="none" stroke="#f7931e" stroke-width="0.85"/>
<circle cx="117.70" cy="653.00" r="1.6" fill="none" stroke="#f7931e" stroke-width="0.85"/>
<circle cx="117.70" cy="658.40" r="1.6" fill="none" stroke="#f7931e" stroke-width="0.85"/>
<circle cx="117.70" cy="663.00" r="1.6" fill="none" stroke="#f7931e" stroke-width="0.85"/>
<circle cx="117.70" cy="670.80" r="1.6" fill="none" stroke="#f7931e" stroke-width="0.85"/>
<line x1="117.7" y1="635.6" x2="117.7" y2="663.4" stroke="#f7931e" stroke-width="0.9" />
<line x1="115.9" y1="635.6" x2="119.5" y2="635.6" stroke="#f7931e" stroke-width="0.9" />
<line x1="115.9" y1="663.4" x2="119.5" y2="663.4" stroke="#f7931e" stroke-width="0.9" />
<line x1="114.5" y1="648.0" x2="120.9" y2="648.0" stroke="#f7931e" stroke-width="1.08" />
<circle cx="127.90" cy="628.50" r="1.6" fill="none" stroke="#35a53b" stroke-width="0.85"/>
<circle cx="127.90" cy="631.20" r="1.6" fill="none" stroke="#35a53b" stroke-width="0.85"/>
<circle cx="126.55" cy="633.80" r="1.6" fill="none" stroke="#35a53b" stroke-width="0.85"/>
<circle cx="127.90" cy="636.60" r="1.6" fill="none" stroke="#35a53b" stroke-width="0.85"/>
<circle cx="127.90" cy="639.40" r="1.6" fill="none" stroke="#35a53b" stroke-width="0.85"/>
<circle cx="127.90" cy="642.20" r="1.6" fill="none" stroke="#35a53b" stroke-width="0.85"/>
<circle cx="127.90" cy="645.40" r="1.6" fill="none" stroke="#35a53b" stroke-width="0.85"/>
<circle cx="127.90" cy="649.00" r="1.6" fill="none" stroke="#35a53b" stroke-width="0.85"/>
<circle cx="127.90" cy="653.40" r="1.6" fill="none" stroke="#35a53b" stroke-width="0.85"/>
<circle cx="127.90" cy="659.60" r="1.6" fill="none" stroke="#35a53b" stroke-width="0.85"/>
<circle cx="127.90" cy="672.10" r="1.6" fill="none" stroke="#35a53b" stroke-width="0.85"/>
<line x1="127.9" y1="631.2" x2="127.9" y2="652.4" stroke="#35a53b" stroke-width="0.9" />
<line x1="126.10000000000001" y1="631.2" x2="129.70000000000002" y2="631.2" stroke="#35a53b" stroke-width="0.9" />
<line x1="126.10000000000001" y1="652.4" x2="129.70000000000002" y2="652.4" stroke="#35a53b" stroke-width="0.9" />
<line x1="124.7" y1="641.3" x2="131.1" y2="641.3" stroke="#35a53b" stroke-width="1.08" />
<text x="157.0" y="589.4" font-size="12.2" text-anchor="start" fill="#000" font-weight="bold" >L</text>
<text transform="translate(169.1,642.8) rotate(-90)" font-size="8.0" text-anchor="middle" fill="#231f20" stroke="#231f20" stroke-width="0.2" textLength="83.3" lengthAdjust="spacingAndGlyphs" >Maternal liver <tspan font-style="italic">Atoh8</tspan> qPCR</text>
<text transform="translate(179.6,642.8) rotate(-90)" font-size="8.0" text-anchor="middle" fill="#231f20" stroke="#231f20" stroke-width="0.2" textLength="94.5" lengthAdjust="spacingAndGlyphs" >fold change (vs unmated NTC)</text>
<line x1="201.7" y1="603.8" x2="201.7" y2="683.1" stroke="#231f20" stroke-width="1.3" />
<line x1="198.89999999999998" y1="605.1" x2="201.7" y2="605.1" stroke="#231f20" stroke-width="1.105" />
<text x="195.8" y="607.6" font-size="6.3" text-anchor="end" fill="#2e2e2e" stroke="#2e2e2e" stroke-width="0.03" textLength="7.71" lengthAdjust="spacingAndGlyphs" >10</text>
<line x1="198.89999999999998" y1="644.3" x2="201.7" y2="644.3" stroke="#231f20" stroke-width="1.105" />
<text x="195.8" y="646.8" font-size="6.3" text-anchor="end" fill="#2e2e2e" stroke="#2e2e2e" stroke-width="0.03" textLength="3.85" lengthAdjust="spacingAndGlyphs" >1</text>
<line x1="198.89999999999998" y1="683.1" x2="201.7" y2="683.1" stroke="#231f20" stroke-width="1.105" />
<text x="195.8" y="685.6" font-size="6.3" text-anchor="end" fill="#2e2e2e" stroke="#2e2e2e" stroke-width="0.03" textLength="9.63" lengthAdjust="spacingAndGlyphs" >0.1</text>
<line x1="201.7" y1="683.1" x2="279.8" y2="683.1" stroke="#231f20" stroke-width="1.3" />
<line x1="213.7" y1="683.1" x2="213.7" y2="685.9" stroke="#231f20" stroke-width="1.105" />
<line x1="241.2" y1="683.1" x2="241.2" y2="685.9" stroke="#231f20" stroke-width="1.105" />
<line x1="268.5" y1="683.1" x2="268.5" y2="685.9" stroke="#231f20" stroke-width="1.105" />
<text x="213.6" y="696.3000000000001" font-size="6.8" text-anchor="middle" fill="#2e2e2e" stroke="#2e2e2e" stroke-width="0.05" textLength="28.3" lengthAdjust="spacingAndGlyphs" >Unmated</text>
<text x="241.2" y="696.3000000000001" font-size="6.8" text-anchor="middle" fill="#2e2e2e" stroke="#2e2e2e" stroke-width="0.05" textLength="10.4" lengthAdjust="spacingAndGlyphs" >8.5</text>
<text x="268.8" y="696.3000000000001" font-size="6.8" text-anchor="middle" fill="#2e2e2e" stroke="#2e2e2e" stroke-width="0.05" textLength="12.9" lengthAdjust="spacingAndGlyphs" >14.5</text>
<polyline points="208.5,634.6 208.5,614.4 219.0,614.4 219.0,625.0" fill="none" stroke="#6d6e71" stroke-width="0.75"/>
<circle cx="213.75" cy="611.00" r="1.1" fill="#3c3c3e"/>
<polyline points="235.8,629.8 235.8,614.4 246.5,614.4 246.5,626.9" fill="none" stroke="#6d6e71" stroke-width="0.75"/>
<text x="241.15" y="612.1999999999999" font-size="6.6" text-anchor="middle" fill="#414042" stroke="#414042" stroke-width="0.2" >ns</text>
<polyline points="263.3,622.1 263.3,614.4 273.8,614.4 273.8,619.2" fill="none" stroke="#6d6e71" stroke-width="0.75"/>
<circle cx="265.50" cy="611.00" r="1.1" fill="#3c3c3e"/>
<circle cx="268.55" cy="611.00" r="1.1" fill="#3c3c3e"/>
<circle cx="271.60" cy="611.00" r="1.1" fill="#3c3c3e"/>
<circle cx="208.50" cy="638.50" r="1.6" fill="none" stroke="#f7931e" stroke-width="0.85"/>
<circle cx="205.80" cy="640.20" r="1.6" fill="none" stroke="#f7931e" stroke-width="0.85"/>
<circle cx="208.50" cy="641.60" r="1.6" fill="none" stroke="#f7931e" stroke-width="0.85"/>
<circle cx="211.20" cy="642.80" r="1.6" fill="none" stroke="#f7931e" stroke-width="0.85"/>
<circle cx="207.15" cy="644.00" r="1.6" fill="none" stroke="#f7931e" stroke-width="0.85"/>
<circle cx="209.85" cy="645.40" r="1.6" fill="none" stroke="#f7931e" stroke-width="0.85"/>
<circle cx="207.15" cy="647.40" r="1.6" fill="none" stroke="#f7931e" stroke-width="0.85"/>
<circle cx="208.50" cy="651.90" r="1.6" fill="none" stroke="#f7931e" stroke-width="0.85"/>
<line x1="208.5" y1="639.6" x2="208.5" y2="645.8" stroke="#f7931e" stroke-width="0.9" />
<line x1="206.7" y1="639.6" x2="210.3" y2="639.6" stroke="#f7931e" stroke-width="0.9" />
<line x1="206.7" y1="645.8" x2="210.3" y2="645.8" stroke="#f7931e" stroke-width="0.9" />
<line x1="205.3" y1="642.7" x2="211.7" y2="642.7" stroke="#f7931e" stroke-width="1.08" />
<circle cx="219.00" cy="628.80" r="1.6" fill="none" stroke="#35a53b" stroke-width="0.85"/>
<circle cx="216.30" cy="631.00" r="1.6" fill="none" stroke="#35a53b" stroke-width="0.85"/>
<circle cx="219.00" cy="633.00" r="1.6" fill="none" stroke="#35a53b" stroke-width="0.85"/>
<circle cx="216.30" cy="634.80" r="1.6" fill="none" stroke="#35a53b" stroke-width="0.85"/>
<circle cx="219.00" cy="636.60" r="1.6" fill="none" stroke="#35a53b" stroke-width="0.85"/>
<circle cx="216.30" cy="638.40" r="1.6" fill="none" stroke="#35a53b" stroke-width="0.85"/>
<circle cx="219.00" cy="640.40" r="1.6" fill="none" stroke="#35a53b" stroke-width="0.85"/>
<circle cx="216.30" cy="642.60" r="1.6" fill="none" stroke="#35a53b" stroke-width="0.85"/>
<circle cx="219.00" cy="646.20" r="1.6" fill="none" stroke="#35a53b" stroke-width="0.85"/>
<line x1="219.0" y1="631.6" x2="219.0" y2="641.8" stroke="#35a53b" stroke-width="0.9" />
<line x1="217.2" y1="631.6" x2="220.8" y2="631.6" stroke="#35a53b" stroke-width="0.9" />
<line x1="217.2" y1="641.8" x2="220.8" y2="641.8" stroke="#35a53b" stroke-width="0.9" />
<line x1="215.8" y1="636.9" x2="222.2" y2="636.9" stroke="#35a53b" stroke-width="1.08" />
<circle cx="235.80" cy="634.20" r="1.6" fill="none" stroke="#f7931e" stroke-width="0.85"/>
<circle cx="235.80" cy="637.20" r="1.6" fill="none" stroke="#f7931e" stroke-width="0.85"/>
<circle cx="235.80" cy="640.00" r="1.6" fill="none" stroke="#f7931e" stroke-width="0.85"/>
<circle cx="234.45" cy="642.60" r="1.6" fill="none" stroke="#f7931e" stroke-width="0.85"/>
<circle cx="235.80" cy="645.00" r="1.6" fill="none" stroke="#f7931e" stroke-width="0.85"/>
<circle cx="234.45" cy="647.40" r="1.6" fill="none" stroke="#f7931e" stroke-width="0.85"/>
<circle cx="235.80" cy="649.80" r="1.6" fill="none" stroke="#f7931e" stroke-width="0.85"/>
<circle cx="234.45" cy="652.40" r="1.6" fill="none" stroke="#f7931e" stroke-width="0.85"/>
<circle cx="235.80" cy="655.20" r="1.6" fill="none" stroke="#f7931e" stroke-width="0.85"/>
<circle cx="235.80" cy="658.70" r="1.6" fill="none" stroke="#f7931e" stroke-width="0.85"/>
<line x1="235.8" y1="638.6" x2="235.8" y2="655.4" stroke="#f7931e" stroke-width="0.9" />
<line x1="234.0" y1="638.6" x2="237.60000000000002" y2="638.6" stroke="#f7931e" stroke-width="0.9" />
<line x1="234.0" y1="655.4" x2="237.60000000000002" y2="655.4" stroke="#f7931e" stroke-width="0.9" />
<line x1="232.60000000000002" y1="647.1" x2="239.0" y2="647.1" stroke="#f7931e" stroke-width="1.08" />
<circle cx="246.50" cy="630.80" r="1.6" fill="none" stroke="#35a53b" stroke-width="0.85"/>
<circle cx="245.15" cy="633.40" r="1.6" fill="none" stroke="#35a53b" stroke-width="0.85"/>
<circle cx="247.85" cy="635.60" r="1.6" fill="none" stroke="#35a53b" stroke-width="0.85"/>
<circle cx="245.15" cy="637.60" r="1.6" fill="none" stroke="#35a53b" stroke-width="0.85"/>
<circle cx="247.85" cy="639.60" r="1.6" fill="none" stroke="#35a53b" stroke-width="0.85"/>
<circle cx="245.15" cy="641.60" r="1.6" fill="none" stroke="#35a53b" stroke-width="0.85"/>
<circle cx="247.85" cy="643.80" r="1.6" fill="none" stroke="#35a53b" stroke-width="0.85"/>
<circle cx="246.50" cy="647.10" r="1.6" fill="none" stroke="#35a53b" stroke-width="0.85"/>
<line x1="246.5" y1="633.6" x2="246.5" y2="645.0" stroke="#35a53b" stroke-width="0.9" />
<line x1="244.7" y1="633.6" x2="248.3" y2="633.6" stroke="#35a53b" stroke-width="0.9" />
<line x1="244.7" y1="645.0" x2="248.3" y2="645.0" stroke="#35a53b" stroke-width="0.9" />
<line x1="243.3" y1="639.4" x2="249.7" y2="639.4" stroke="#35a53b" stroke-width="1.08" />
<circle cx="263.30" cy="624.60" r="1.6" fill="none" stroke="#f7931e" stroke-width="0.85"/>
<circle cx="263.30" cy="633.20" r="1.6" fill="none" stroke="#f7931e" stroke-width="0.85"/>
<circle cx="263.30" cy="636.80" r="1.6" fill="none" stroke="#f7931e" stroke-width="0.85"/>
<circle cx="263.30" cy="639.60" r="1.6" fill="none" stroke="#f7931e" stroke-width="0.85"/>
<circle cx="261.95" cy="642.20" r="1.6" fill="none" stroke="#f7931e" stroke-width="0.85"/>
<circle cx="263.30" cy="644.80" r="1.6" fill="none" stroke="#f7931e" stroke-width="0.85"/>
<circle cx="263.30" cy="647.60" r="1.6" fill="none" stroke="#f7931e" stroke-width="0.85"/>
<circle cx="263.30" cy="650.80" r="1.6" fill="none" stroke="#f7931e" stroke-width="0.85"/>
<circle cx="263.30" cy="654.20" r="1.6" fill="none" stroke="#f7931e" stroke-width="0.85"/>
<circle cx="263.30" cy="657.70" r="1.6" fill="none" stroke="#f7931e" stroke-width="0.85"/>
<line x1="263.3" y1="633.7" x2="263.3" y2="657.7" stroke="#f7931e" stroke-width="0.9" />
<line x1="261.5" y1="633.7" x2="265.1" y2="633.7" stroke="#f7931e" stroke-width="0.9" />
<line x1="261.5" y1="657.7" x2="265.1" y2="657.7" stroke="#f7931e" stroke-width="0.9" />
<line x1="260.1" y1="641.3" x2="266.5" y2="641.3" stroke="#f7931e" stroke-width="1.08" />
<circle cx="273.80" cy="622.70" r="1.6" fill="none" stroke="#35a53b" stroke-width="0.85"/>
<circle cx="271.10" cy="624.80" r="1.6" fill="none" stroke="#35a53b" stroke-width="0.85"/>
<circle cx="273.80" cy="626.80" r="1.6" fill="none" stroke="#35a53b" stroke-width="0.85"/>
<circle cx="271.10" cy="628.80" r="1.6" fill="none" stroke="#35a53b" stroke-width="0.85"/>
<circle cx="273.80" cy="630.80" r="1.6" fill="none" stroke="#35a53b" stroke-width="0.85"/>
<circle cx="271.10" cy="633.00" r="1.6" fill="none" stroke="#35a53b" stroke-width="0.85"/>
<circle cx="273.80" cy="635.40" r="1.6" fill="none" stroke="#35a53b" stroke-width="0.85"/>
<circle cx="273.80" cy="655.40" r="1.6" fill="none" stroke="#35a53b" stroke-width="0.85"/>
<line x1="273.8" y1="625.0" x2="273.8" y2="636.0" stroke="#35a53b" stroke-width="0.9" />
<line x1="272.0" y1="625.0" x2="275.6" y2="625.0" stroke="#35a53b" stroke-width="0.9" />
<line x1="272.0" y1="636.0" x2="275.6" y2="636.0" stroke="#35a53b" stroke-width="0.9" />
<line x1="270.6" y1="630.4" x2="277.0" y2="630.4" stroke="#35a53b" stroke-width="1.08" />
<text x="296.4" y="589.2" font-size="12.2" text-anchor="start" fill="#000" font-weight="bold" >M</text>
<text transform="translate(314.2,643.0) rotate(-90)" font-size="8.0" text-anchor="middle" fill="#231f20" stroke="#231f20" stroke-width="0.2" textLength="85.5" lengthAdjust="spacingAndGlyphs" >Maternal liver <tspan font-style="italic">Smad7</tspan> qPCR</text>
<text transform="translate(324.6,644.6) rotate(-90)" font-size="8.0" text-anchor="middle" fill="#231f20" stroke="#231f20" stroke-width="0.2" textLength="97.0" lengthAdjust="spacingAndGlyphs" >fold change (vs unmated NTC)</text>
<line x1="346.8" y1="603.8" x2="346.8" y2="683.4" stroke="#231f20" stroke-width="1.3" />
<line x1="344.0" y1="605.1" x2="346.8" y2="605.1" stroke="#231f20" stroke-width="1.105" />
<text x="341.6" y="607.6" font-size="6.3" text-anchor="end" fill="#2e2e2e" stroke="#2e2e2e" stroke-width="0.03" textLength="7.71" lengthAdjust="spacingAndGlyphs" >10</text>
<line x1="344.0" y1="644.3" x2="346.8" y2="644.3" stroke="#231f20" stroke-width="1.105" />
<text x="341.6" y="646.8" font-size="6.3" text-anchor="end" fill="#2e2e2e" stroke="#2e2e2e" stroke-width="0.03" textLength="3.85" lengthAdjust="spacingAndGlyphs" >1</text>
<line x1="344.0" y1="683.4" x2="346.8" y2="683.4" stroke="#231f20" stroke-width="1.105" />
<text x="341.6" y="685.9" font-size="6.3" text-anchor="end" fill="#2e2e2e" stroke="#2e2e2e" stroke-width="0.03" textLength="9.63" lengthAdjust="spacingAndGlyphs" >0.1</text>
<line x1="346.8" y1="683.4" x2="424.8" y2="683.4" stroke="#231f20" stroke-width="1.3" />
<line x1="358.7" y1="683.4" x2="358.7" y2="686.1999999999999" stroke="#231f20" stroke-width="1.105" />
<line x1="386.2" y1="683.4" x2="386.2" y2="686.1999999999999" stroke="#231f20" stroke-width="1.105" />
<line x1="413.1" y1="683.4" x2="413.1" y2="686.1999999999999" stroke="#231f20" stroke-width="1.105" />
<text x="358.3" y="696.7" font-size="6.8" text-anchor="middle" fill="#2e2e2e" stroke="#2e2e2e" stroke-width="0.05" textLength="28.700000000000003" lengthAdjust="spacingAndGlyphs" >Unmated</text>
<text x="386.2" y="696.7" font-size="6.8" text-anchor="middle" fill="#2e2e2e" stroke="#2e2e2e" stroke-width="0.05" textLength="10.299999999999999" lengthAdjust="spacingAndGlyphs" >8.5</text>
<text x="413.6" y="696.7" font-size="6.8" text-anchor="middle" fill="#2e2e2e" stroke="#2e2e2e" stroke-width="0.05" textLength="13.1" lengthAdjust="spacingAndGlyphs" >14.5</text>
<polyline points="353.5,633.5 353.5,606.5 364.0,606.5 364.0,610.4" fill="none" stroke="#6d6e71" stroke-width="0.75"/>
<circle cx="354.18" cy="603.00" r="1.1" fill="#3c3c3e"/>
<circle cx="357.23" cy="603.00" r="1.1" fill="#3c3c3e"/>
<circle cx="360.28" cy="603.00" r="1.1" fill="#3c3c3e"/>
<circle cx="363.32" cy="603.00" r="1.1" fill="#3c3c3e"/>
<polyline points="380.8,625.8 380.8,606.5 391.0,606.5 391.0,626.7" fill="none" stroke="#6d6e71" stroke-width="0.75"/>
<text x="385.9" y="604.1999999999999" font-size="6.6" text-anchor="middle" fill="#414042" stroke="#414042" stroke-width="0.2" >ns</text>
<polyline points="408.3,638.3 408.3,606.5 418.5,606.5 418.5,626.7" fill="none" stroke="#6d6e71" stroke-width="0.75"/>
<circle cx="413.40" cy="603.00" r="1.1" fill="#3c3c3e"/>
<circle cx="353.50" cy="638.80" r="1.6" fill="none" stroke="#f7931e" stroke-width="0.85"/>
<circle cx="350.80" cy="640.60" r="1.6" fill="none" stroke="#f7931e" stroke-width="0.85"/>
<circle cx="353.50" cy="642.20" r="1.6" fill="none" stroke="#f7931e" stroke-width="0.85"/>
<circle cx="350.80" cy="643.80" r="1.6" fill="none" stroke="#f7931e" stroke-width="0.85"/>
<circle cx="353.50" cy="645.40" r="1.6" fill="none" stroke="#f7931e" stroke-width="0.85"/>
<circle cx="350.80" cy="647.00" r="1.6" fill="none" stroke="#f7931e" stroke-width="0.85"/>
<circle cx="353.50" cy="648.60" r="1.6" fill="none" stroke="#f7931e" stroke-width="0.85"/>
<circle cx="350.80" cy="650.40" r="1.6" fill="none" stroke="#f7931e" stroke-width="0.85"/>
<line x1="353.5" y1="641.0" x2="353.5" y2="648.0" stroke="#f7931e" stroke-width="0.9" />
<line x1="351.7" y1="641.0" x2="355.3" y2="641.0" stroke="#f7931e" stroke-width="0.9" />
<line x1="351.7" y1="648.0" x2="355.3" y2="648.0" stroke="#f7931e" stroke-width="0.9" />
<line x1="350.3" y1="644.6" x2="356.7" y2="644.6" stroke="#f7931e" stroke-width="1.08" />
<circle cx="364.00" cy="615.20" r="1.6" fill="none" stroke="#35a53b" stroke-width="0.85"/>
<circle cx="364.00" cy="621.90" r="1.6" fill="none" stroke="#35a53b" stroke-width="0.85"/>
<circle cx="362.65" cy="624.40" r="1.6" fill="none" stroke="#35a53b" stroke-width="0.85"/>
<circle cx="365.35" cy="626.40" r="1.6" fill="none" stroke="#35a53b" stroke-width="0.85"/>
<circle cx="362.65" cy="628.20" r="1.6" fill="none" stroke="#35a53b" stroke-width="0.85"/>
<circle cx="365.35" cy="630.00" r="1.6" fill="none" stroke="#35a53b" stroke-width="0.85"/>
<circle cx="362.65" cy="632.00" r="1.6" fill="none" stroke="#35a53b" stroke-width="0.85"/>
<circle cx="364.00" cy="634.60" r="1.6" fill="none" stroke="#35a53b" stroke-width="0.85"/>
<circle cx="364.00" cy="637.70" r="1.6" fill="none" stroke="#35a53b" stroke-width="0.85"/>
<line x1="364.0" y1="621.9" x2="364.0" y2="634.4" stroke="#35a53b" stroke-width="0.9" />
<line x1="362.2" y1="621.9" x2="365.8" y2="621.9" stroke="#35a53b" stroke-width="0.9" />
<line x1="362.2" y1="634.4" x2="365.8" y2="634.4" stroke="#35a53b" stroke-width="0.9" />
<line x1="360.8" y1="628.7" x2="367.2" y2="628.7" stroke="#35a53b" stroke-width="1.08" />
<circle cx="380.80" cy="629.60" r="1.6" fill="none" stroke="#f7931e" stroke-width="0.85"/>
<circle cx="380.80" cy="633.40" r="1.6" fill="none" stroke="#f7931e" stroke-width="0.85"/>
<circle cx="380.80" cy="636.60" r="1.6" fill="none" stroke="#f7931e" stroke-width="0.85"/>
<circle cx="380.80" cy="639.40" r="1.6" fill="none" stroke="#f7931e" stroke-width="0.85"/>
<circle cx="379.45" cy="642.00" r="1.6" fill="none" stroke="#f7931e" stroke-width="0.85"/>
<circle cx="380.80" cy="644.60" r="1.6" fill="none" stroke="#f7931e" stroke-width="0.85"/>
<circle cx="380.80" cy="647.40" r="1.6" fill="none" stroke="#f7931e" stroke-width="0.85"/>
<circle cx="380.80" cy="650.60" r="1.6" fill="none" stroke="#f7931e" stroke-width="0.85"/>
<circle cx="380.80" cy="654.20" r="1.6" fill="none" stroke="#f7931e" stroke-width="0.85"/>
<line x1="380.8" y1="636.0" x2="380.8" y2="648.6" stroke="#f7931e" stroke-width="0.9" />
<line x1="379.0" y1="636.0" x2="382.6" y2="636.0" stroke="#f7931e" stroke-width="0.9" />
<line x1="379.0" y1="648.6" x2="382.6" y2="648.6" stroke="#f7931e" stroke-width="0.9" />
<line x1="377.6" y1="642.1" x2="384.0" y2="642.1" stroke="#f7931e" stroke-width="1.08" />
<circle cx="391.00" cy="629.60" r="1.6" fill="none" stroke="#35a53b" stroke-width="0.85"/>
<circle cx="388.30" cy="631.80" r="1.6" fill="none" stroke="#35a53b" stroke-width="0.85"/>
<circle cx="391.00" cy="634.00" r="1.6" fill="none" stroke="#35a53b" stroke-width="0.85"/>
<circle cx="388.30" cy="636.20" r="1.6" fill="none" stroke="#35a53b" stroke-width="0.85"/>
<circle cx="391.00" cy="638.40" r="1.6" fill="none" stroke="#35a53b" stroke-width="0.85"/>
<circle cx="389.65" cy="640.80" r="1.6" fill="none" stroke="#35a53b" stroke-width="0.85"/>
<circle cx="391.00" cy="643.40" r="1.6" fill="none" stroke="#35a53b" stroke-width="0.85"/>
<circle cx="391.00" cy="646.90" r="1.6" fill="none" stroke="#35a53b" stroke-width="0.85"/>
<line x1="391.0" y1="630.6" x2="391.0" y2="640.4" stroke="#35a53b" stroke-width="0.9" />
<line x1="389.2" y1="630.6" x2="392.8" y2="630.6" stroke="#35a53b" stroke-width="0.9" />
<line x1="389.2" y1="640.4" x2="392.8" y2="640.4" stroke="#35a53b" stroke-width="0.9" />
<line x1="387.8" y1="635.4" x2="394.2" y2="635.4" stroke="#35a53b" stroke-width="1.08" />
<circle cx="408.30" cy="642.10" r="1.6" fill="none" stroke="#f7931e" stroke-width="0.85"/>
<circle cx="408.30" cy="646.00" r="1.6" fill="none" stroke="#f7931e" stroke-width="0.85"/>
<circle cx="408.30" cy="649.40" r="1.6" fill="none" stroke="#f7931e" stroke-width="0.85"/>
<circle cx="408.30" cy="652.40" r="1.6" fill="none" stroke="#f7931e" stroke-width="0.85"/>
<circle cx="406.95" cy="655.00" r="1.6" fill="none" stroke="#f7931e" stroke-width="0.85"/>
<circle cx="408.30" cy="657.60" r="1.6" fill="none" stroke="#f7931e" stroke-width="0.85"/>
<circle cx="406.95" cy="660.20" r="1.6" fill="none" stroke="#f7931e" stroke-width="0.85"/>
<circle cx="408.30" cy="662.80" r="1.6" fill="none" stroke="#f7931e" stroke-width="0.85"/>
<circle cx="408.30" cy="666.20" r="1.6" fill="none" stroke="#f7931e" stroke-width="0.85"/>
<line x1="408.3" y1="646.0" x2="408.3" y2="665.2" stroke="#f7931e" stroke-width="0.9" />
<line x1="406.5" y1="646.0" x2="410.1" y2="646.0" stroke="#f7931e" stroke-width="0.9" />
<line x1="406.5" y1="665.2" x2="410.1" y2="665.2" stroke="#f7931e" stroke-width="0.9" />
<line x1="405.1" y1="655.6" x2="411.5" y2="655.6" stroke="#f7931e" stroke-width="1.08" />
<circle cx="418.50" cy="631.20" r="1.6" fill="none" stroke="#35a53b" stroke-width="0.85"/>
<circle cx="417.15" cy="633.60" r="1.6" fill="none" stroke="#35a53b" stroke-width="0.85"/>
<circle cx="418.50" cy="636.00" r="1.6" fill="none" stroke="#35a53b" stroke-width="0.85"/>
<circle cx="417.15" cy="638.60" r="1.6" fill="none" stroke="#35a53b" stroke-width="0.85"/>
<circle cx="418.50" cy="641.40" r="1.6" fill="none" stroke="#35a53b" stroke-width="0.85"/>
<circle cx="418.50" cy="644.40" r="1.6" fill="none" stroke="#35a53b" stroke-width="0.85"/>
<circle cx="418.50" cy="648.00" r="1.6" fill="none" stroke="#35a53b" stroke-width="0.85"/>
<circle cx="418.50" cy="652.60" r="1.6" fill="none" stroke="#35a53b" stroke-width="0.85"/>
<circle cx="418.50" cy="667.70" r="1.6" fill="none" stroke="#35a53b" stroke-width="0.85"/>
<line x1="418.5" y1="634.4" x2="418.5" y2="655.6" stroke="#35a53b" stroke-width="0.9" />
<line x1="416.7" y1="634.4" x2="420.3" y2="634.4" stroke="#35a53b" stroke-width="0.9" />
<line x1="416.7" y1="655.6" x2="420.3" y2="655.6" stroke="#35a53b" stroke-width="0.9" />
<line x1="415.3" y1="642.1" x2="421.7" y2="642.1" stroke="#35a53b" stroke-width="1.08" />
<circle cx="434.6" cy="638.1" r="1.3" fill="none" stroke="#f7931e" stroke-width="0.8"/>
<circle cx="434.6" cy="647.1" r="1.3" fill="none" stroke="#35a53b" stroke-width="0.8"/>
<text x="439.2" y="640.4" font-size="7.0" text-anchor="start" fill="#231f20" stroke="#231f20" stroke-width="0.1" textLength="38.7" lengthAdjust="spacingAndGlyphs" >NTC treated</text>
<text x="439.2" y="649.4" font-size="7.0" text-anchor="start" fill="#231f20" stroke="#231f20" stroke-width="0.1" textLength="67.9" lengthAdjust="spacingAndGlyphs" >Tmprss6 RNAi treated</text>
<circle cx="75.02" cy="29.40" r="1.1" fill="#3c3c3e"/>
<circle cx="78.07" cy="29.40" r="1.1" fill="#3c3c3e"/>
<circle cx="81.12" cy="29.40" r="1.1" fill="#3c3c3e"/>
<circle cx="84.17" cy="29.40" r="1.1" fill="#3c3c3e"/>
<rect x="0.5" y="0.5" width="518.6" height="701.6" fill="none" stroke="#4a4a4a" stroke-width="1.2"/>
<line x1="519.3" y1="0" x2="519.3" y2="703" stroke="#333" stroke-width="1.4"/>
<line x1="0" y1="702.3" x2="520" y2="702.3" stroke="#333" stroke-width="1.4"/>
</svg>
</body></html>
